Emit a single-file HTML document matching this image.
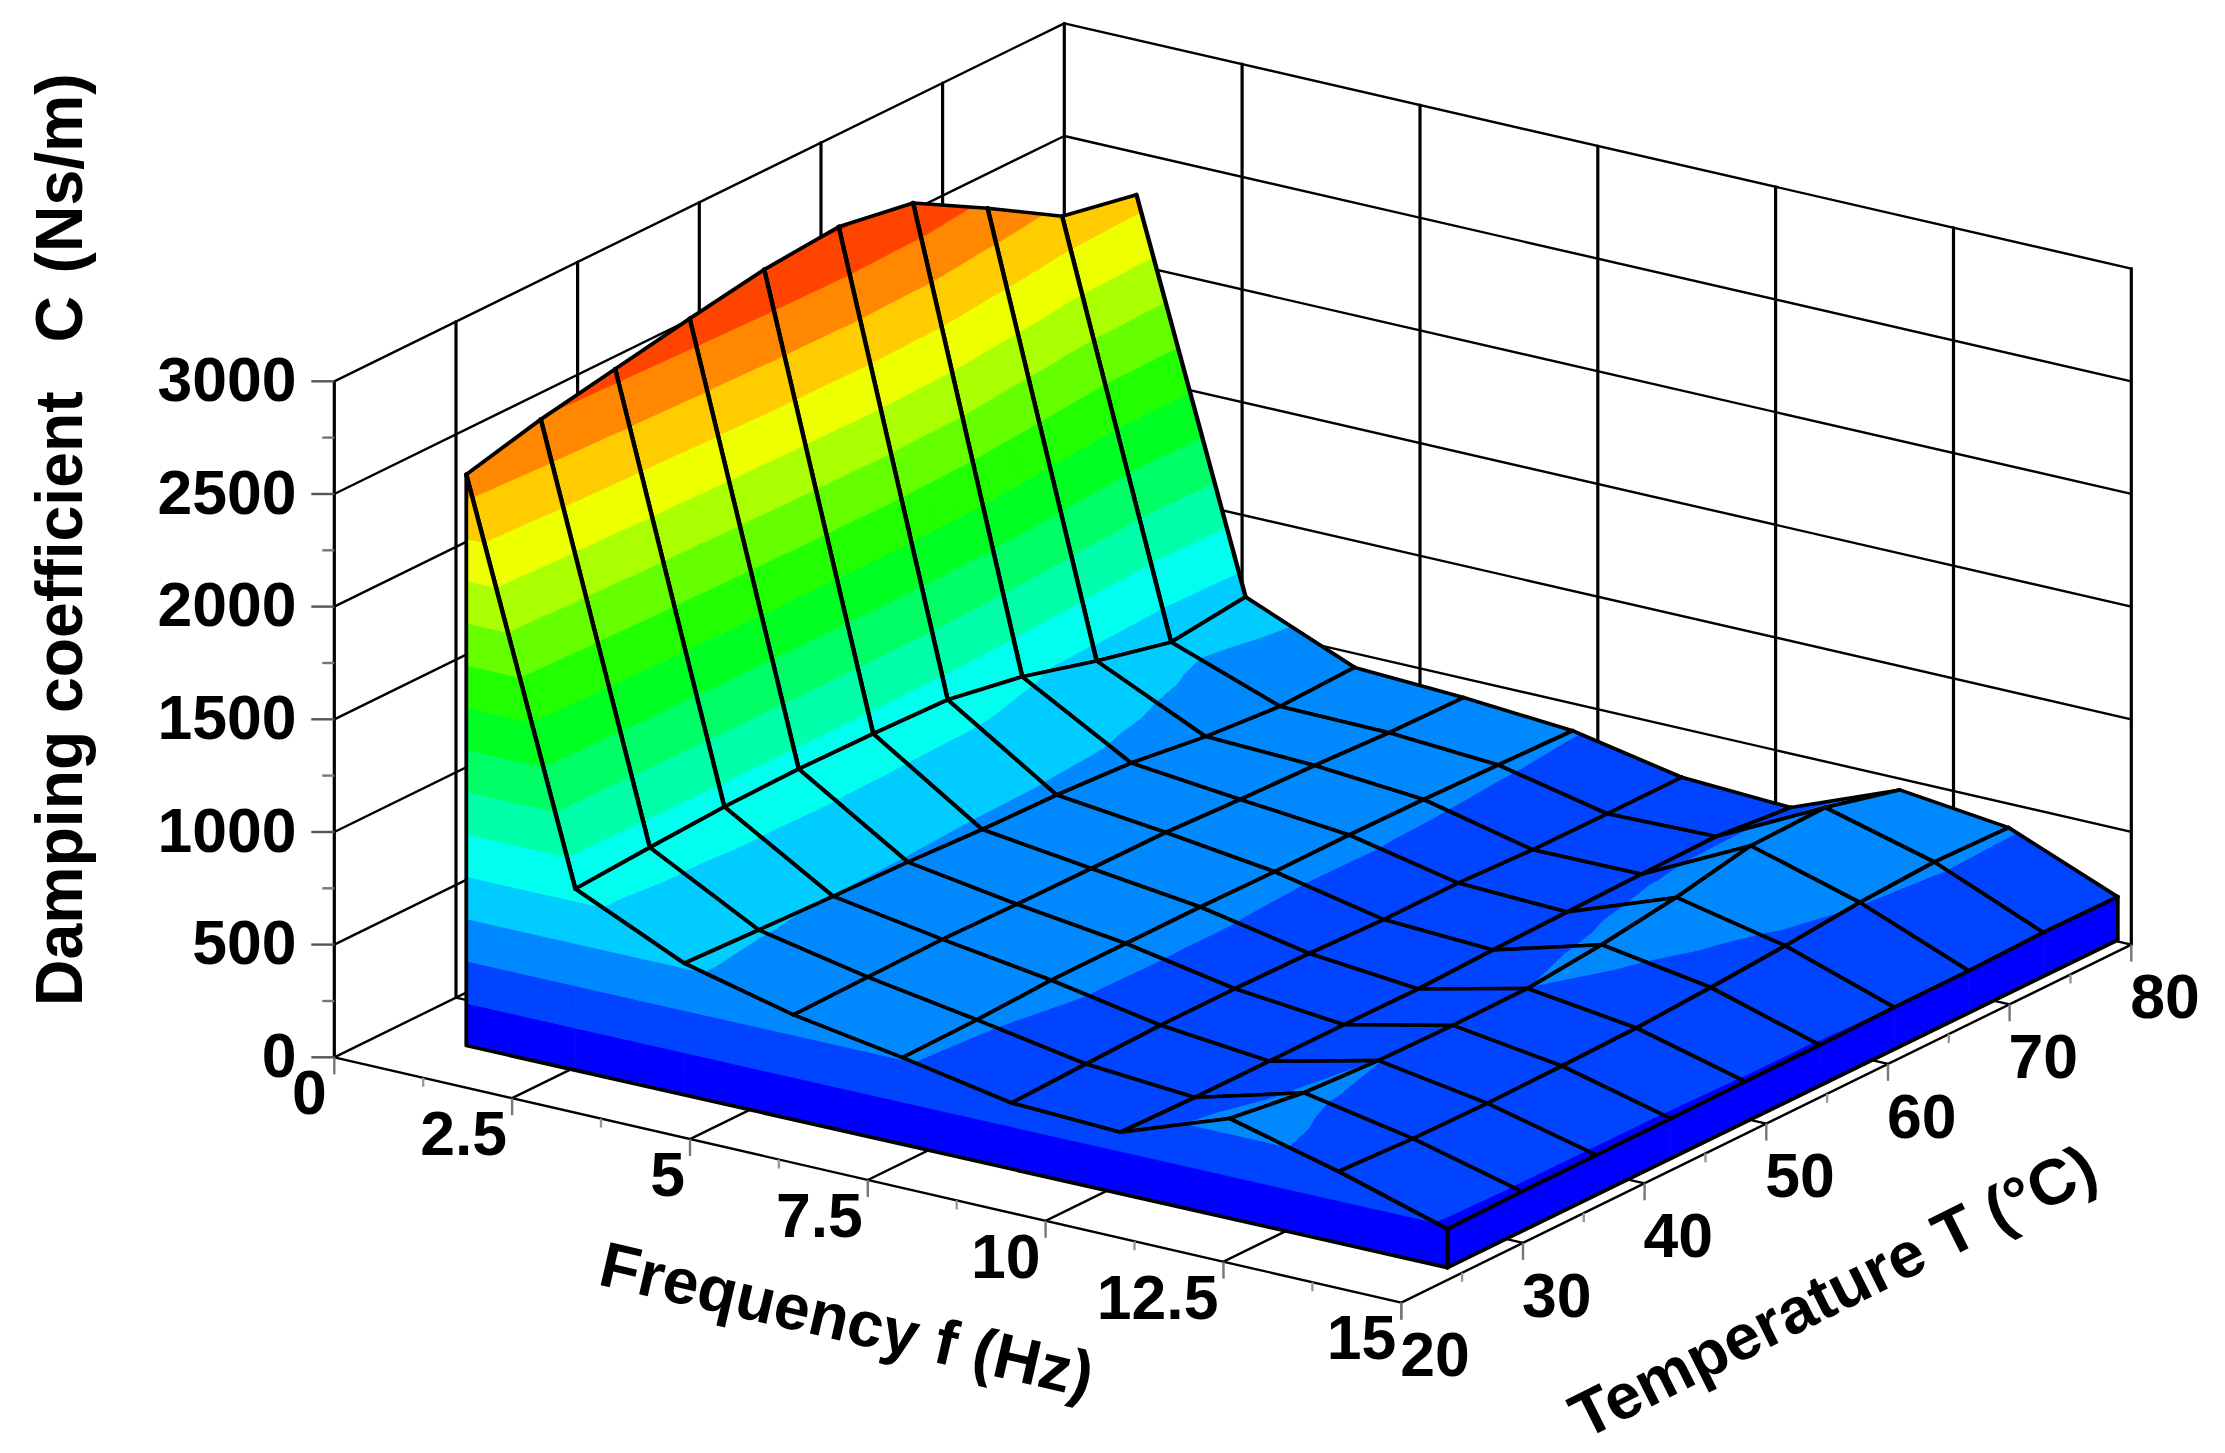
<!DOCTYPE html>
<html lang="en">
<head>
<meta charset="utf-8">
<title>Damping coefficient surface plot</title>
<style>
html,body{margin:0;padding:0;background:#fff;}
body{width:2225px;height:1453px;overflow:hidden;}
svg{display:block;}
</style>
</head>
<body>
<svg width="2225" height="1453" viewBox="0 0 2225 1453">
<rect width="2225" height="1453" fill="#fff"/>
<g stroke-linecap="round">
<line x1="334.3" y1="1057.3" x2="1064.3" y2="699.3" stroke="#000" stroke-width="2.4"/>
<line x1="1064.3" y1="699.3" x2="2131.3" y2="944.6" stroke="#000" stroke-width="2.4"/>
<line x1="334.3" y1="944.6" x2="1064.3" y2="586.6" stroke="#000" stroke-width="2.4"/>
<line x1="1064.3" y1="586.6" x2="2131.3" y2="831.9" stroke="#000" stroke-width="2.4"/>
<line x1="334.3" y1="832" x2="1064.3" y2="474" stroke="#000" stroke-width="2.4"/>
<line x1="1064.3" y1="474" x2="2131.3" y2="719.3" stroke="#000" stroke-width="2.4"/>
<line x1="334.3" y1="719.3" x2="1064.3" y2="361.3" stroke="#000" stroke-width="2.4"/>
<line x1="1064.3" y1="361.3" x2="2131.3" y2="606.6" stroke="#000" stroke-width="2.4"/>
<line x1="334.3" y1="606.6" x2="1064.3" y2="248.6" stroke="#000" stroke-width="2.4"/>
<line x1="1064.3" y1="248.6" x2="2131.3" y2="493.9" stroke="#000" stroke-width="2.4"/>
<line x1="334.3" y1="494" x2="1064.3" y2="136" stroke="#000" stroke-width="2.4"/>
<line x1="1064.3" y1="136" x2="2131.3" y2="381.3" stroke="#000" stroke-width="2.4"/>
<line x1="334.3" y1="381.3" x2="1064.3" y2="23.3" stroke="#000" stroke-width="2.4"/>
<line x1="1064.3" y1="23.3" x2="2131.3" y2="268.6" stroke="#000" stroke-width="2.4"/>
<line x1="334.3" y1="1057.3" x2="334.3" y2="381.3" stroke="#000" stroke-width="3.2"/>
<line x1="456" y1="997.6" x2="456" y2="321.6" stroke="#000" stroke-width="3.2"/>
<line x1="577.6" y1="938" x2="577.6" y2="262" stroke="#000" stroke-width="3.2"/>
<line x1="699.3" y1="878.3" x2="699.3" y2="202.3" stroke="#000" stroke-width="3.2"/>
<line x1="821" y1="818.6" x2="821" y2="142.6" stroke="#000" stroke-width="3.2"/>
<line x1="942.6" y1="759" x2="942.6" y2="83" stroke="#000" stroke-width="3.2"/>
<line x1="1064.3" y1="699.3" x2="1064.3" y2="23.3" stroke="#000" stroke-width="3.2"/>
<line x1="1242.1" y1="740.2" x2="1242.1" y2="64.2" stroke="#000" stroke-width="3.2"/>
<line x1="1420" y1="781.1" x2="1420" y2="105.1" stroke="#000" stroke-width="3.2"/>
<line x1="1597.8" y1="822" x2="1597.8" y2="146" stroke="#000" stroke-width="3.2"/>
<line x1="1775.6" y1="862.8" x2="1775.6" y2="186.8" stroke="#000" stroke-width="3.2"/>
<line x1="1953.5" y1="903.7" x2="1953.5" y2="227.7" stroke="#000" stroke-width="3.2"/>
<line x1="2131.3" y1="944.6" x2="2131.3" y2="268.6" stroke="#000" stroke-width="3.2"/>
<line x1="512.1" y1="1098.2" x2="1242.1" y2="740.2" stroke="#000" stroke-width="2.4"/>
<line x1="690" y1="1139.1" x2="1420" y2="781.1" stroke="#000" stroke-width="2.4"/>
<line x1="867.8" y1="1180" x2="1597.8" y2="822" stroke="#000" stroke-width="2.4"/>
<line x1="1045.6" y1="1220.8" x2="1775.6" y2="862.8" stroke="#000" stroke-width="2.4"/>
<line x1="1223.5" y1="1261.7" x2="1953.5" y2="903.7" stroke="#000" stroke-width="2.4"/>
<line x1="456" y1="997.6" x2="1523" y2="1242.9" stroke="#000" stroke-width="2.4"/>
<line x1="577.6" y1="938" x2="1644.6" y2="1183.3" stroke="#000" stroke-width="2.4"/>
<line x1="699.3" y1="878.3" x2="1766.3" y2="1123.6" stroke="#000" stroke-width="2.4"/>
<line x1="821" y1="818.6" x2="1888" y2="1063.9" stroke="#000" stroke-width="2.4"/>
<line x1="942.6" y1="759" x2="2009.6" y2="1004.3" stroke="#000" stroke-width="2.4"/>
<line x1="334.3" y1="1057.3" x2="1401.3" y2="1302.6" stroke="#000" stroke-width="2.4"/>
<line x1="1401.3" y1="1302.6" x2="2131.3" y2="944.6" stroke="#000" stroke-width="2.4"/>
</g>
<g stroke-linecap="butt">
<line x1="311.3" y1="1057.3" x2="334.3" y2="1057.3" stroke="#555" stroke-width="2.4"/>
<line x1="322.3" y1="1001" x2="334.3" y2="1001" stroke="#777" stroke-width="2.4"/>
<line x1="311.3" y1="944.6" x2="334.3" y2="944.6" stroke="#555" stroke-width="2.4"/>
<line x1="322.3" y1="888.3" x2="334.3" y2="888.3" stroke="#777" stroke-width="2.4"/>
<line x1="311.3" y1="832" x2="334.3" y2="832" stroke="#555" stroke-width="2.4"/>
<line x1="322.3" y1="775.6" x2="334.3" y2="775.6" stroke="#777" stroke-width="2.4"/>
<line x1="311.3" y1="719.3" x2="334.3" y2="719.3" stroke="#555" stroke-width="2.4"/>
<line x1="322.3" y1="663" x2="334.3" y2="663" stroke="#777" stroke-width="2.4"/>
<line x1="311.3" y1="606.6" x2="334.3" y2="606.6" stroke="#555" stroke-width="2.4"/>
<line x1="322.3" y1="550.3" x2="334.3" y2="550.3" stroke="#777" stroke-width="2.4"/>
<line x1="311.3" y1="494" x2="334.3" y2="494" stroke="#555" stroke-width="2.4"/>
<line x1="322.3" y1="437.6" x2="334.3" y2="437.6" stroke="#777" stroke-width="2.4"/>
<line x1="311.3" y1="381.3" x2="334.3" y2="381.3" stroke="#555" stroke-width="2.4"/>
<line x1="334.3" y1="1057.3" x2="334.3" y2="1074.3" stroke="#777" stroke-width="2.4"/>
<line x1="423.2" y1="1077.7" x2="423.2" y2="1086.7" stroke="#999" stroke-width="2.4"/>
<line x1="512.1" y1="1098.2" x2="512.1" y2="1115.2" stroke="#777" stroke-width="2.4"/>
<line x1="601" y1="1118.6" x2="601" y2="1127.6" stroke="#999" stroke-width="2.4"/>
<line x1="690" y1="1139.1" x2="690" y2="1156.1" stroke="#777" stroke-width="2.4"/>
<line x1="778.9" y1="1159.5" x2="778.9" y2="1168.5" stroke="#999" stroke-width="2.4"/>
<line x1="867.8" y1="1180" x2="867.8" y2="1197" stroke="#777" stroke-width="2.4"/>
<line x1="956.7" y1="1200.4" x2="956.7" y2="1209.4" stroke="#999" stroke-width="2.4"/>
<line x1="1045.6" y1="1220.8" x2="1045.6" y2="1237.8" stroke="#777" stroke-width="2.4"/>
<line x1="1134.5" y1="1241.3" x2="1134.5" y2="1250.3" stroke="#999" stroke-width="2.4"/>
<line x1="1223.5" y1="1261.7" x2="1223.5" y2="1278.7" stroke="#777" stroke-width="2.4"/>
<line x1="1312.4" y1="1282.2" x2="1312.4" y2="1291.2" stroke="#999" stroke-width="2.4"/>
<line x1="1401.3" y1="1302.6" x2="1401.3" y2="1319.6" stroke="#777" stroke-width="2.4"/>
<line x1="1401.3" y1="1302.6" x2="1401.3" y2="1319.6" stroke="#777" stroke-width="2.4"/>
<line x1="1462.1" y1="1272.8" x2="1462.1" y2="1281.8" stroke="#999" stroke-width="2.4"/>
<line x1="1523" y1="1242.9" x2="1523" y2="1259.9" stroke="#777" stroke-width="2.4"/>
<line x1="1583.8" y1="1213.1" x2="1583.8" y2="1222.1" stroke="#999" stroke-width="2.4"/>
<line x1="1644.6" y1="1183.3" x2="1644.6" y2="1200.3" stroke="#777" stroke-width="2.4"/>
<line x1="1705.5" y1="1153.4" x2="1705.5" y2="1162.4" stroke="#999" stroke-width="2.4"/>
<line x1="1766.3" y1="1123.6" x2="1766.3" y2="1140.6" stroke="#777" stroke-width="2.4"/>
<line x1="1827.1" y1="1093.8" x2="1827.1" y2="1102.8" stroke="#999" stroke-width="2.4"/>
<line x1="1888" y1="1063.9" x2="1888" y2="1080.9" stroke="#777" stroke-width="2.4"/>
<line x1="1948.8" y1="1034.1" x2="1948.8" y2="1043.1" stroke="#999" stroke-width="2.4"/>
<line x1="2009.6" y1="1004.3" x2="2009.6" y2="1021.3" stroke="#777" stroke-width="2.4"/>
<line x1="2070.5" y1="974.4" x2="2070.5" y2="983.4" stroke="#999" stroke-width="2.4"/>
<line x1="2131.3" y1="944.6" x2="2131.3" y2="961.6" stroke="#777" stroke-width="2.4"/>
</g>
<g stroke-linejoin="round" stroke-linecap="round">
<path d="M1162.3,608L1171.1,642.2L1168.3,605ZM1171.1,642.2L1245.6,596.9L1234.3,574.3L1168.3,605ZM1245.6,596.9L1238.8,572.1L1234.3,574.3Z" fill="#00ccff" stroke="#00ccff" stroke-width="0.8"/>
<path d="M1150.9,563.1L1162.3,608L1168.3,605L1164.6,556.3ZM1234.3,574.3L1213.9,533.3L1164.6,556.3L1168.3,605ZM1238.8,572.1L1226.6,527L1213.9,533.3L1234.3,574.3Z" fill="#00ffee" stroke="#00ffee" stroke-width="0.8"/>
<path d="M1139.4,518.3L1150.9,563.1L1164.6,556.3L1161,507.6ZM1213.9,533.3L1193.6,492.4L1161,507.6L1164.6,556.3ZM1226.6,527L1214.4,482L1193.6,492.4L1213.9,533.3Z" fill="#00ffaa" stroke="#00ffaa" stroke-width="0.8"/>
<path d="M1127.9,473.4L1139.4,518.3L1161,507.6L1157.3,458.8ZM1193.6,492.4L1173.2,451.5L1157.3,458.8L1161,507.6ZM1214.4,482L1202.2,437L1173.2,451.5L1193.6,492.4Z" fill="#00ff66" stroke="#00ff66" stroke-width="0.8"/>
<path d="M1116.4,428.6L1127.9,473.4L1157.3,458.8L1153.8,412.6L1152.9,410.5ZM1173.2,451.5L1153.8,412.6L1157.3,458.8ZM1202.2,437L1190,392L1153.6,410.1L1153.8,412.6L1173.2,451.5ZM1152.9,410.5L1153.8,412.6L1153.6,410.1Z" fill="#00ff22" stroke="#00ff22" stroke-width="0.8"/>
<path d="M1104.9,383.8L1116.4,428.6L1152.9,410.5L1133.7,369.5ZM1190,392L1177.8,347L1149.7,361L1153.6,410.1ZM1133.7,369.5L1152.9,410.5L1153.6,410.1L1149.7,361Z" fill="#22ff00" stroke="#22ff00" stroke-width="0.8"/>
<path d="M1093.5,338.9L1104.9,383.8L1133.7,369.5L1114.5,328.5ZM1177.8,347L1165.6,302L1145.8,311.8L1149.7,361ZM1114.5,328.5L1133.7,369.5L1149.7,361L1145.8,311.8Z" fill="#66ff00" stroke="#66ff00" stroke-width="0.8"/>
<path d="M1082,294.1L1093.5,338.9L1114.5,328.5L1095.3,287.4ZM1165.6,302L1153.4,257L1141.9,262.7L1145.8,311.8ZM1095.3,287.4L1114.5,328.5L1145.8,311.8L1141.9,262.7Z" fill="#aaff00" stroke="#aaff00" stroke-width="0.8"/>
<path d="M1070.5,249.2L1082,294.1L1095.3,287.4L1076.2,246.4ZM1153.4,257L1141.2,212L1138,213.5L1141.9,262.7ZM1076.2,246.4L1095.3,287.4L1141.9,262.7L1138,213.5Z" fill="#eeff00" stroke="#eeff00" stroke-width="0.8"/>
<path d="M1062.1,216.3L1070.5,249.2L1076.2,246.4ZM1141.2,212L1136.5,194.8L1138,213.5ZM1136.5,194.8L1062.1,216.3L1076.2,246.4L1138,213.5Z" fill="#ffcc00" stroke="#ffcc00" stroke-width="0.8"/>
<path d="M1062.1,216.3L1171.1,642.2" stroke="#000" stroke-width="4.35"/>
<path d="M1171.1,642.2L1245.6,596.9" stroke="#000" stroke-width="3.78"/>
<path d="M1245.6,596.9L1136.5,194.8" stroke="#000" stroke-width="4.34"/>
<path d="M1136.5,194.8L1062.1,216.3" stroke="#000" stroke-width="3.62"/>
<path d="M1198.8,658.5L1280.1,706.4L1262.8,653.2L1225.6,648.7ZM1280.1,706.4L1354.6,667.4L1262.8,653.2ZM1354.6,667.4L1290.6,626L1258.3,638.2L1262.8,653.2ZM1225.6,648.7L1262.8,653.2L1258.3,638.2Z" fill="#0088ff" stroke="#0088ff" stroke-width="0.8"/>
<path d="M1171.1,642.2L1198.8,658.5L1225.6,648.7ZM1290.6,626L1245.6,596.9L1258.3,638.2ZM1245.6,596.9L1171.1,642.2L1225.6,648.7L1258.3,638.2Z" fill="#00ccff" stroke="#00ccff" stroke-width="0.8"/>
<path d="M1171.1,642.2L1280.1,706.4" stroke="#000" stroke-width="3.77"/>
<path d="M1280.1,706.4L1354.6,667.4" stroke="#000" stroke-width="3.73"/>
<path d="M1354.6,667.4L1245.6,596.9" stroke="#000" stroke-width="3.80"/>
<path d="M1245.6,596.9L1171.1,642.2" stroke="#000" stroke-width="3.78"/>
<path d="M1280.1,706.4L1389.1,732.8L1371.9,701ZM1389.1,732.8L1463.6,697.6L1371.9,701ZM1463.6,697.6L1354.6,667.4L1371.9,701ZM1354.6,667.4L1280.1,706.4L1371.9,701Z" fill="#0088ff" stroke="#0088ff" stroke-width="0.8"/>
<path d="M1280.1,706.4L1389.1,732.8" stroke="#000" stroke-width="3.60"/>
<path d="M1389.1,732.8L1463.6,697.6" stroke="#000" stroke-width="3.71"/>
<path d="M1463.6,697.6L1354.6,667.4" stroke="#000" stroke-width="3.61"/>
<path d="M1354.6,667.4L1280.1,706.4" stroke="#000" stroke-width="3.73"/>
<path d="M1389.1,732.8L1498.2,765L1480.9,731.5ZM1498.2,765L1572.6,730.7L1480.9,731.5ZM1572.6,730.7L1463.6,697.6L1480.9,731.5ZM1463.6,697.6L1389.1,732.8L1480.9,731.5Z" fill="#0088ff" stroke="#0088ff" stroke-width="0.8"/>
<path d="M1389.1,732.8L1498.2,765" stroke="#000" stroke-width="3.62"/>
<path d="M1498.2,765L1572.6,730.7" stroke="#000" stroke-width="3.70"/>
<path d="M1572.6,730.7L1463.6,697.6" stroke="#000" stroke-width="3.62"/>
<path d="M1463.6,697.6L1389.1,732.8" stroke="#000" stroke-width="3.71"/>
<path d="M1514,772.1L1607.2,813.8L1589.9,771.7L1523.8,766.9ZM1607.2,813.8L1681.7,777.3L1589.9,771.7ZM1681.7,777.3L1579.7,733.7L1575,736.2L1589.9,771.7ZM1523.8,766.9L1589.9,771.7L1575,736.2Z" fill="#0044ff" stroke="#0044ff" stroke-width="0.8"/>
<path d="M1498.2,765L1514,772.1L1523.8,766.9ZM1579.7,733.7L1572.6,730.7L1575,736.2ZM1572.6,730.7L1498.2,765L1523.8,766.9L1575,736.2Z" fill="#0088ff" stroke="#0088ff" stroke-width="0.8"/>
<path d="M1498.2,765L1607.2,813.8" stroke="#000" stroke-width="3.69"/>
<path d="M1607.2,813.8L1681.7,777.3" stroke="#000" stroke-width="3.71"/>
<path d="M1681.7,777.3L1572.6,730.7" stroke="#000" stroke-width="3.68"/>
<path d="M1572.6,730.7L1498.2,765" stroke="#000" stroke-width="3.70"/>
<path d="M1607.2,813.8L1716.2,836.5L1698.9,808.8ZM1716.2,836.5L1790.7,807.5L1698.9,808.8ZM1790.7,807.5L1681.7,777.3L1698.9,808.8ZM1681.7,777.3L1607.2,813.8L1698.9,808.8Z" fill="#0044ff" stroke="#0044ff" stroke-width="0.8"/>
<path d="M1607.2,813.8L1716.2,836.5" stroke="#000" stroke-width="3.59"/>
<path d="M1716.2,836.5L1790.7,807.5" stroke="#000" stroke-width="3.66"/>
<path d="M1790.7,807.5L1681.7,777.3" stroke="#000" stroke-width="3.61"/>
<path d="M1681.7,777.3L1607.2,813.8" stroke="#000" stroke-width="3.71"/>
<path d="M1716.2,836.5L1754.1,826.4L1800.5,812.5ZM1857.8,796.7L1790.7,807.5L1806.9,810.2ZM1790.7,807.5L1716.2,836.5L1800.5,812.5L1806.9,810.2Z" fill="#0044ff" stroke="#0044ff" stroke-width="0.8"/>
<path d="M1754.1,826.4L1825.2,807.5L1808,810.4L1800.5,812.5ZM1825.2,807.5L1899.7,789.9L1808,810.4ZM1899.7,789.9L1857.8,796.7L1806.9,810.2L1808,810.4ZM1800.5,812.5L1808,810.4L1806.9,810.2Z" fill="#0088ff" stroke="#0088ff" stroke-width="0.8"/>
<path d="M1716.2,836.5L1825.2,807.5" stroke="#000" stroke-width="3.61"/>
<path d="M1825.2,807.5L1899.7,789.9" stroke="#000" stroke-width="3.59"/>
<path d="M1899.7,789.9L1790.7,807.5" stroke="#000" stroke-width="3.57"/>
<path d="M1790.7,807.5L1716.2,836.5" stroke="#000" stroke-width="3.66"/>
<path d="M1825.2,807.5L1934.3,862L1917,821.8ZM1934.3,862L2008.7,827.6L1917,821.8ZM2008.7,827.6L1899.7,789.9L1917,821.8ZM1899.7,789.9L1825.2,807.5L1917,821.8Z" fill="#0088ff" stroke="#0088ff" stroke-width="0.8"/>
<path d="M1825.2,807.5L1934.3,862" stroke="#000" stroke-width="3.72"/>
<path d="M1934.3,862L2008.7,827.6" stroke="#000" stroke-width="3.70"/>
<path d="M2008.7,827.6L1899.7,789.9" stroke="#000" stroke-width="3.64"/>
<path d="M1899.7,789.9L1825.2,807.5" stroke="#000" stroke-width="3.59"/>
<path d="M1946.7,870L2043.3,932.5L2026,879.7L1954.6,865.9ZM2043.3,932.5L2117.8,896.8L2026,879.7ZM2117.8,896.8L2016.6,832.6L2011.3,835.4L2026,879.7ZM1954.6,865.9L2026,879.7L2011.3,835.4Z" fill="#0044ff" stroke="#0044ff" stroke-width="0.8"/>
<path d="M1934.3,862L1946.7,870L1954.6,865.9ZM2016.6,832.6L2008.7,827.6L2011.3,835.4ZM2008.7,827.6L1934.3,862L1954.6,865.9L2011.3,835.4Z" fill="#0088ff" stroke="#0088ff" stroke-width="0.8"/>
<path d="M1934.3,862L2043.3,932.5" stroke="#000" stroke-width="3.80"/>
<path d="M2043.3,932.5L2117.8,896.8" stroke="#000" stroke-width="3.71"/>
<path d="M2117.8,896.8L2008.7,827.6" stroke="#000" stroke-width="3.79"/>
<path d="M2008.7,827.6L1934.3,862" stroke="#000" stroke-width="3.70"/>
<path d="M1092.9,645.5L1096.6,661L1095.4,644.1ZM1096.6,661L1171.1,642.2L1157.4,610.9L1095.4,644.1ZM1171.1,642.2L1162.3,608L1157.4,610.9Z" fill="#00ccff" stroke="#00ccff" stroke-width="0.8"/>
<path d="M1082.1,600.8L1092.9,645.5L1095.4,644.1L1091.7,595.4ZM1157.4,610.9L1139.5,569.7L1091.7,595.4L1095.4,644.1ZM1162.3,608L1150.9,563.1L1139.5,569.7L1157.4,610.9Z" fill="#00ffee" stroke="#00ffee" stroke-width="0.8"/>
<path d="M1071.4,556.2L1082.1,600.8L1091.7,595.4L1088,546.6ZM1139.5,569.7L1121.6,528.6L1088,546.6L1091.7,595.4ZM1150.9,563.1L1139.4,518.3L1121.6,528.6L1139.5,569.7Z" fill="#00ffaa" stroke="#00ffaa" stroke-width="0.8"/>
<path d="M1060.6,511.5L1071.4,556.2L1088,546.6L1084.3,497.9ZM1121.6,528.6L1103.6,487.5L1084.3,497.9L1088,546.6ZM1139.4,518.3L1127.9,473.4L1103.6,487.5L1121.6,528.6Z" fill="#00ff66" stroke="#00ff66" stroke-width="0.8"/>
<path d="M1049.9,466.8L1060.6,511.5L1084.3,497.9L1080.7,449.1ZM1103.6,487.5L1085.7,446.4L1080.7,449.1L1084.3,497.9ZM1127.9,473.4L1116.4,428.6L1085.7,446.4L1103.6,487.5Z" fill="#00ff22" stroke="#00ff22" stroke-width="0.8"/>
<path d="M1039.1,422.1L1049.9,466.8L1080.7,449.1L1079.4,431.9L1068.4,405.3ZM1085.7,446.4L1079.4,431.9L1080.7,449.1ZM1116.4,428.6L1104.9,383.8L1076.8,400.1L1079.4,431.9L1085.7,446.4ZM1068.4,405.3L1079.4,431.9L1076.8,400.1Z" fill="#22ff00" stroke="#22ff00" stroke-width="0.8"/>
<path d="M1028.3,377.4L1039.1,422.1L1068.4,405.3L1051.5,364.1ZM1104.9,383.8L1093.5,338.9L1072.9,350.9L1076.8,400.1ZM1051.5,364.1L1068.4,405.3L1076.8,400.1L1072.9,350.9Z" fill="#66ff00" stroke="#66ff00" stroke-width="0.8"/>
<path d="M1017.6,332.7L1028.3,377.4L1051.5,364.1L1034.7,322.9ZM1093.5,338.9L1082,294.1L1068.9,301.6L1072.9,350.9ZM1034.7,322.9L1051.5,364.1L1072.9,350.9L1068.9,301.6Z" fill="#aaff00" stroke="#aaff00" stroke-width="0.8"/>
<path d="M1006.8,288.1L1017.6,332.7L1034.7,322.9L1017.8,281.8ZM1082,294.1L1070.5,249.2L1065,252.4L1068.9,301.6ZM1017.8,281.8L1034.7,322.9L1068.9,301.6L1065,252.4Z" fill="#eeff00" stroke="#eeff00" stroke-width="0.8"/>
<path d="M996.1,243.4L1006.8,288.1L1017.8,281.8L1000.9,240.6ZM1070.5,249.2L1062.1,216.3L1065,252.4ZM1062.1,216.3L1043.3,214.3L1000.9,240.6L1017.8,281.8L1065,252.4Z" fill="#ffcc00" stroke="#ffcc00" stroke-width="0.8"/>
<path d="M987.6,208.2L996.1,243.4L1000.9,240.6ZM1043.3,214.3L987.6,208.2L1000.9,240.6Z" fill="#ff8800" stroke="#ff8800" stroke-width="0.8"/>
<path d="M987.6,208.2L1096.6,661" stroke="#000" stroke-width="4.35"/>
<path d="M1096.6,661L1171.1,642.2" stroke="#000" stroke-width="3.60"/>
<path d="M1171.1,642.2L1062.1,216.3" stroke="#000" stroke-width="4.35"/>
<path d="M1062.1,216.3L987.6,208.2" stroke="#000" stroke-width="3.56"/>
<path d="M1155.8,702L1205.7,736.6L1188.4,686.5L1177.3,683.5ZM1205.7,736.6L1280.1,706.4L1188.4,686.5ZM1280.1,706.4L1198.8,658.5L1183.6,674.4L1188.4,686.5ZM1177.3,683.5L1188.4,686.5L1183.6,674.4Z" fill="#0088ff" stroke="#0088ff" stroke-width="0.8"/>
<path d="M1096.6,661L1155.8,702L1177.3,683.5ZM1198.8,658.5L1171.1,642.2L1183.6,674.4ZM1171.1,642.2L1096.6,661L1177.3,683.5L1183.6,674.4Z" fill="#00ccff" stroke="#00ccff" stroke-width="0.8"/>
<path d="M1096.6,661L1205.7,736.6" stroke="#000" stroke-width="3.83"/>
<path d="M1205.7,736.6L1280.1,706.4" stroke="#000" stroke-width="3.67"/>
<path d="M1280.1,706.4L1171.1,642.2" stroke="#000" stroke-width="3.77"/>
<path d="M1171.1,642.2L1096.6,661" stroke="#000" stroke-width="3.60"/>
<path d="M1205.7,736.6L1314.7,765.5L1297.4,735.3ZM1314.7,765.5L1389.1,732.8L1297.4,735.3ZM1389.1,732.8L1280.1,706.4L1297.4,735.3ZM1280.1,706.4L1205.7,736.6L1297.4,735.3Z" fill="#0088ff" stroke="#0088ff" stroke-width="0.8"/>
<path d="M1205.7,736.6L1314.7,765.5" stroke="#000" stroke-width="3.61"/>
<path d="M1314.7,765.5L1389.1,732.8" stroke="#000" stroke-width="3.69"/>
<path d="M1389.1,732.8L1280.1,706.4" stroke="#000" stroke-width="3.60"/>
<path d="M1280.1,706.4L1205.7,736.6" stroke="#000" stroke-width="3.67"/>
<path d="M1314.7,765.5L1423.7,799.5L1406.4,765.7ZM1423.7,799.5L1498.2,765L1406.4,765.7ZM1498.2,765L1389.1,732.8L1406.4,765.7ZM1389.1,732.8L1314.7,765.5L1406.4,765.7Z" fill="#0088ff" stroke="#0088ff" stroke-width="0.8"/>
<path d="M1314.7,765.5L1423.7,799.5" stroke="#000" stroke-width="3.63"/>
<path d="M1423.7,799.5L1498.2,765" stroke="#000" stroke-width="3.70"/>
<path d="M1498.2,765L1389.1,732.8" stroke="#000" stroke-width="3.62"/>
<path d="M1389.1,732.8L1314.7,765.5" stroke="#000" stroke-width="3.69"/>
<path d="M1446.7,810.1L1532.7,849.8L1515.4,807L1460.8,802.5ZM1532.7,849.8L1607.2,813.8L1515.4,807ZM1607.2,813.8L1514,772.1L1503.4,777.8L1515.4,807ZM1460.8,802.5L1515.4,807L1503.4,777.8Z" fill="#0044ff" stroke="#0044ff" stroke-width="0.8"/>
<path d="M1423.7,799.5L1446.7,810.1L1460.8,802.5ZM1514,772.1L1498.2,765L1503.4,777.8ZM1498.2,765L1423.7,799.5L1460.8,802.5L1503.4,777.8Z" fill="#0088ff" stroke="#0088ff" stroke-width="0.8"/>
<path d="M1423.7,799.5L1532.7,849.8" stroke="#000" stroke-width="3.70"/>
<path d="M1532.7,849.8L1607.2,813.8" stroke="#000" stroke-width="3.71"/>
<path d="M1607.2,813.8L1498.2,765" stroke="#000" stroke-width="3.69"/>
<path d="M1498.2,765L1423.7,799.5" stroke="#000" stroke-width="3.70"/>
<path d="M1532.7,849.8L1641.7,874.2L1624.5,843.6ZM1641.7,874.2L1716.2,836.5L1624.5,843.6ZM1716.2,836.5L1607.2,813.8L1624.5,843.6ZM1607.2,813.8L1532.7,849.8L1624.5,843.6Z" fill="#0044ff" stroke="#0044ff" stroke-width="0.8"/>
<path d="M1532.7,849.8L1641.7,874.2" stroke="#000" stroke-width="3.59"/>
<path d="M1641.7,874.2L1716.2,836.5" stroke="#000" stroke-width="3.72"/>
<path d="M1716.2,836.5L1607.2,813.8" stroke="#000" stroke-width="3.59"/>
<path d="M1607.2,813.8L1532.7,849.8" stroke="#000" stroke-width="3.71"/>
<path d="M1641.7,874.2L1682.7,863.5L1708.6,850ZM1754.1,826.4L1716.2,836.5L1728.6,839.7ZM1716.2,836.5L1641.7,874.2L1708.6,850L1728.6,839.7Z" fill="#0044ff" stroke="#0044ff" stroke-width="0.8"/>
<path d="M1682.7,863.5L1750.8,845.8L1733.5,841L1708.6,850ZM1750.8,845.8L1825.2,807.5L1733.5,841ZM1825.2,807.5L1754.1,826.4L1728.6,839.7L1733.5,841ZM1708.6,850L1733.5,841L1728.6,839.7Z" fill="#0088ff" stroke="#0088ff" stroke-width="0.8"/>
<path d="M1641.7,874.2L1750.8,845.8" stroke="#000" stroke-width="3.60"/>
<path d="M1750.8,845.8L1825.2,807.5" stroke="#000" stroke-width="3.73"/>
<path d="M1825.2,807.5L1716.2,836.5" stroke="#000" stroke-width="3.61"/>
<path d="M1716.2,836.5L1641.7,874.2" stroke="#000" stroke-width="3.72"/>
<path d="M1750.8,845.8L1859.8,902.5L1842.5,854.5ZM1859.8,902.5L1934.3,862L1842.5,854.5ZM1934.3,862L1825.2,807.5L1842.5,854.5ZM1825.2,807.5L1750.8,845.8L1842.5,854.5Z" fill="#0088ff" stroke="#0088ff" stroke-width="0.8"/>
<path d="M1750.8,845.8L1859.8,902.5" stroke="#000" stroke-width="3.73"/>
<path d="M1859.8,902.5L1934.3,862" stroke="#000" stroke-width="3.74"/>
<path d="M1934.3,862L1825.2,807.5" stroke="#000" stroke-width="3.72"/>
<path d="M1825.2,807.5L1750.8,845.8" stroke="#000" stroke-width="3.73"/>
<path d="M1967.9,970.4L1968.8,970.9L1968.5,970.1ZM1968.8,970.9L1981.8,964.2L1968.5,970.1Z" fill="#0000ff" stroke="#0000ff" stroke-width="0.8"/>
<path d="M1862.6,904.3L1967.9,970.4L1968.5,970.1L1951.5,917L1864.8,903.3ZM1981.8,964.2L2043.3,932.5L1951.5,917L1968.5,970.1ZM2043.3,932.5L1946.7,870L1937.9,873.7L1951.5,917ZM1864.8,903.3L1951.5,917L1937.9,873.7Z" fill="#0044ff" stroke="#0044ff" stroke-width="0.8"/>
<path d="M1859.8,902.5L1862.6,904.3L1864.8,903.3ZM1946.7,870L1934.3,862L1937.9,873.7ZM1934.3,862L1859.8,902.5L1864.8,903.3L1937.9,873.7Z" fill="#0088ff" stroke="#0088ff" stroke-width="0.8"/>
<path d="M1859.8,902.5L1968.8,970.9" stroke="#000" stroke-width="3.79"/>
<path d="M1968.8,970.9L2043.3,932.5" stroke="#000" stroke-width="3.73"/>
<path d="M2043.3,932.5L1934.3,862" stroke="#000" stroke-width="3.80"/>
<path d="M1934.3,862L1859.8,902.5" stroke="#000" stroke-width="3.74"/>
<path d="M1013.4,638.5L1022.2,676.7L1019.2,635.2ZM1022.2,676.7L1044,672.1L1090.8,646.8L1073.9,605.6L1019.2,635.2ZM1092.9,645.5L1082.1,600.8L1073.9,605.6L1090.8,646.8Z" fill="#00ffee" stroke="#00ffee" stroke-width="0.8"/>
<path d="M1003.1,594L1013.4,638.5L1019.2,635.2L1015.7,586.8ZM1073.9,605.6L1057,564.4L1015.7,586.8L1019.2,635.2ZM1082.1,600.8L1071.4,556.2L1057,564.4L1073.9,605.6Z" fill="#00ffaa" stroke="#00ffaa" stroke-width="0.8"/>
<path d="M992.9,549.4L1003.1,594L1015.7,586.8L1012.2,538.4ZM1057,564.4L1040.2,523.2L1012.2,538.4L1015.7,586.8ZM1071.4,556.2L1060.6,511.5L1040.2,523.2L1057,564.4Z" fill="#00ff66" stroke="#00ff66" stroke-width="0.8"/>
<path d="M982.6,504.8L992.9,549.4L1012.2,538.4L1008.7,490ZM1040.2,523.2L1023.3,482.1L1008.7,490L1012.2,538.4ZM1060.6,511.5L1049.9,466.8L1023.3,482.1L1040.2,523.2Z" fill="#00ff22" stroke="#00ff22" stroke-width="0.8"/>
<path d="M972.4,460.3L982.6,504.8L1008.7,490L1005.2,441.5ZM1023.3,482.1L1006.4,440.9L1005.2,441.5L1008.7,490ZM1049.9,466.8L1039.1,422.1L1006.4,440.9L1023.3,482.1Z" fill="#22ff00" stroke="#22ff00" stroke-width="0.8"/>
<path d="M962.1,415.7L972.4,460.3L1005.2,441.5L1004.9,437.2L990.2,399.7ZM1006.4,440.9L1004.9,437.2L1005.2,441.5ZM1039.1,422.1L1028.3,377.4L1001.5,392.8L1004.9,437.2L1006.4,440.9ZM990.2,399.7L1004.9,437.2L1001.5,392.8Z" fill="#66ff00" stroke="#66ff00" stroke-width="0.8"/>
<path d="M951.8,371.1L962.1,415.7L990.2,399.7L974,358.5ZM1028.3,377.4L1017.6,332.7L997.9,344.1L1001.5,392.8ZM974,358.5L990.2,399.7L1001.5,392.8L997.9,344.1Z" fill="#aaff00" stroke="#aaff00" stroke-width="0.8"/>
<path d="M941.6,326.5L951.8,371.1L974,358.5L957.9,317.2ZM1017.6,332.7L1006.8,288.1L994.2,295.3L997.9,344.1ZM957.9,317.2L974,358.5L997.9,344.1L994.2,295.3Z" fill="#eeff00" stroke="#eeff00" stroke-width="0.8"/>
<path d="M931.3,282L941.6,326.5L957.9,317.2L941.8,276ZM1006.8,288.1L996.1,243.4L990.5,246.6L994.2,295.3ZM941.8,276L957.9,317.2L994.2,295.3L990.5,246.6Z" fill="#ffcc00" stroke="#ffcc00" stroke-width="0.8"/>
<path d="M921.1,237.4L931.3,282L941.8,276L925.6,234.8ZM996.1,243.4L987.6,208.2L990.5,246.6ZM987.6,208.2L971.5,207.1L925.6,234.8L941.8,276L990.5,246.6Z" fill="#ff8800" stroke="#ff8800" stroke-width="0.8"/>
<path d="M913.1,202.9L921.1,237.4L925.6,234.8ZM971.5,207.1L913.1,202.9L925.6,234.8Z" fill="#ff4400" stroke="#ff4400" stroke-width="0.8"/>
<path d="M1044,672.1L1096.6,661L1090.8,646.8ZM1096.6,661L1092.9,645.5L1090.8,646.8Z" fill="#00ccff" stroke="#00ccff" stroke-width="0.8"/>
<path d="M913.1,202.9L1022.2,676.7" stroke="#000" stroke-width="4.36"/>
<path d="M1022.2,676.7L1096.6,661" stroke="#000" stroke-width="3.59"/>
<path d="M1096.6,661L987.6,208.2" stroke="#000" stroke-width="4.35"/>
<path d="M987.6,208.2L913.1,202.9" stroke="#000" stroke-width="3.55"/>
<path d="M1107.7,744.4L1131.2,763L1121.3,732.2ZM1131.2,763L1205.7,736.6L1141.2,717.4L1121.3,732.2ZM1205.7,736.6L1155.8,702L1141.2,717.4Z" fill="#0088ff" stroke="#0088ff" stroke-width="0.8"/>
<path d="M1032.9,685.2L1107.7,744.4L1121.3,732.2L1113.9,709.3L1036.6,681.9ZM1141.2,717.4L1113.9,709.3L1121.3,732.2ZM1155.8,702L1096.6,661L1113.9,709.3L1141.2,717.4ZM1096.6,661L1044,672.1L1036.6,681.9L1113.9,709.3Z" fill="#00ccff" stroke="#00ccff" stroke-width="0.8"/>
<path d="M1022.2,676.7L1032.9,685.2L1036.6,681.9ZM1044,672.1L1022.2,676.7L1036.6,681.9Z" fill="#00ffee" stroke="#00ffee" stroke-width="0.8"/>
<path d="M1022.2,676.7L1131.2,763" stroke="#000" stroke-width="3.88"/>
<path d="M1131.2,763L1205.7,736.6" stroke="#000" stroke-width="3.64"/>
<path d="M1205.7,736.6L1096.6,661" stroke="#000" stroke-width="3.83"/>
<path d="M1096.6,661L1022.2,676.7" stroke="#000" stroke-width="3.59"/>
<path d="M1131.2,763L1240.2,799.5L1222.9,766.1ZM1240.2,799.5L1314.7,765.5L1222.9,766.1ZM1314.7,765.5L1205.7,736.6L1222.9,766.1ZM1205.7,736.6L1131.2,763L1222.9,766.1Z" fill="#0088ff" stroke="#0088ff" stroke-width="0.8"/>
<path d="M1131.2,763L1240.2,799.5" stroke="#000" stroke-width="3.64"/>
<path d="M1240.2,799.5L1314.7,765.5" stroke="#000" stroke-width="3.70"/>
<path d="M1314.7,765.5L1205.7,736.6" stroke="#000" stroke-width="3.61"/>
<path d="M1205.7,736.6L1131.2,763" stroke="#000" stroke-width="3.64"/>
<path d="M1240.2,799.5L1349.2,835L1331.9,799.9ZM1349.2,835L1423.7,799.5L1331.9,799.9ZM1423.7,799.5L1314.7,765.5L1331.9,799.9ZM1314.7,765.5L1240.2,799.5L1331.9,799.9Z" fill="#0088ff" stroke="#0088ff" stroke-width="0.8"/>
<path d="M1240.2,799.5L1349.2,835" stroke="#000" stroke-width="3.63"/>
<path d="M1349.2,835L1423.7,799.5" stroke="#000" stroke-width="3.71"/>
<path d="M1423.7,799.5L1314.7,765.5" stroke="#000" stroke-width="3.63"/>
<path d="M1314.7,765.5L1240.2,799.5" stroke="#000" stroke-width="3.70"/>
<path d="M1378.6,848L1458.2,883.1L1441,841.9L1394.8,838.4ZM1458.2,883.1L1532.7,849.8L1441,841.9ZM1532.7,849.8L1446.7,810.1L1431.6,818.9L1441,841.9ZM1394.8,838.4L1441,841.9L1431.6,818.9Z" fill="#0044ff" stroke="#0044ff" stroke-width="0.8"/>
<path d="M1349.2,835L1378.6,848L1394.8,838.4ZM1446.7,810.1L1423.7,799.5L1431.6,818.9ZM1423.7,799.5L1349.2,835L1394.8,838.4L1431.6,818.9Z" fill="#0088ff" stroke="#0088ff" stroke-width="0.8"/>
<path d="M1349.2,835L1458.2,883.1" stroke="#000" stroke-width="3.69"/>
<path d="M1458.2,883.1L1532.7,849.8" stroke="#000" stroke-width="3.69"/>
<path d="M1532.7,849.8L1423.7,799.5" stroke="#000" stroke-width="3.70"/>
<path d="M1423.7,799.5L1349.2,835" stroke="#000" stroke-width="3.71"/>
<path d="M1458.2,883.1L1567.3,912L1550,879.8ZM1567.3,912L1641.7,874.2L1550,879.8ZM1641.7,874.2L1532.7,849.8L1550,879.8ZM1532.7,849.8L1458.2,883.1L1550,879.8Z" fill="#0044ff" stroke="#0044ff" stroke-width="0.8"/>
<path d="M1458.2,883.1L1567.3,912" stroke="#000" stroke-width="3.61"/>
<path d="M1567.3,912L1641.7,874.2" stroke="#000" stroke-width="3.72"/>
<path d="M1641.7,874.2L1532.7,849.8" stroke="#000" stroke-width="3.59"/>
<path d="M1532.7,849.8L1458.2,883.1" stroke="#000" stroke-width="3.69"/>
<path d="M1567.3,912L1626.5,904.1L1649.5,885.4ZM1682.7,863.5L1641.7,874.2L1657.1,881.5ZM1641.7,874.2L1567.3,912L1649.5,885.4L1657.1,881.5Z" fill="#0044ff" stroke="#0044ff" stroke-width="0.8"/>
<path d="M1626.5,904.1L1676.3,897.4L1659,882.4L1649.5,885.4ZM1676.3,897.4L1750.8,845.8L1659,882.4ZM1750.8,845.8L1682.7,863.5L1657.1,881.5L1659,882.4ZM1649.5,885.4L1659,882.4L1657.1,881.5Z" fill="#0088ff" stroke="#0088ff" stroke-width="0.8"/>
<path d="M1567.3,912L1676.3,897.4" stroke="#000" stroke-width="3.56"/>
<path d="M1676.3,897.4L1750.8,845.8" stroke="#000" stroke-width="3.83"/>
<path d="M1750.8,845.8L1641.7,874.2" stroke="#000" stroke-width="3.60"/>
<path d="M1641.7,874.2L1567.3,912" stroke="#000" stroke-width="3.72"/>
<path d="M1758.8,934L1785.3,945.8L1779.6,929.9ZM1785.3,945.8L1847.7,909.5L1779.6,929.9Z" fill="#0044ff" stroke="#0044ff" stroke-width="0.8"/>
<path d="M1676.3,897.4L1758.8,934L1779.6,929.9L1768,897.9ZM1847.7,909.5L1859.8,902.5L1768,897.9L1779.6,929.9ZM1859.8,902.5L1750.8,845.8L1768,897.9ZM1750.8,845.8L1676.3,897.4L1768,897.9Z" fill="#0088ff" stroke="#0088ff" stroke-width="0.8"/>
<path d="M1676.3,897.4L1785.3,945.8" stroke="#000" stroke-width="3.69"/>
<path d="M1785.3,945.8L1859.8,902.5" stroke="#000" stroke-width="3.76"/>
<path d="M1859.8,902.5L1750.8,845.8" stroke="#000" stroke-width="3.73"/>
<path d="M1750.8,845.8L1676.3,897.4" stroke="#000" stroke-width="3.83"/>
<path d="M1893,1006.6L1894.3,1007.4L1893.9,1006.3ZM1894.3,1007.4L1968.8,970.9L1967.2,970.7L1893.9,1006.3ZM1968.8,970.9L1967.9,970.4L1967.2,970.7Z" fill="#0000ff" stroke="#0000ff" stroke-width="0.8"/>
<path d="M1785.3,945.8L1893,1006.6L1893.9,1006.3L1877.1,956.6ZM1967.2,970.7L1877.1,956.6L1893.9,1006.3ZM1967.9,970.4L1862.6,904.3L1860.6,905.1L1877.1,956.6L1967.2,970.7ZM1847.7,909.5L1785.3,945.8L1877.1,956.6L1860.6,905.1Z" fill="#0044ff" stroke="#0044ff" stroke-width="0.8"/>
<path d="M1862.6,904.3L1859.8,902.5L1860.6,905.1ZM1859.8,902.5L1847.7,909.5L1860.6,905.1Z" fill="#0088ff" stroke="#0088ff" stroke-width="0.8"/>
<path d="M1785.3,945.8L1894.3,1007.4" stroke="#000" stroke-width="3.76"/>
<path d="M1894.3,1007.4L1968.8,970.9" stroke="#000" stroke-width="3.71"/>
<path d="M1968.8,970.9L1859.8,902.5" stroke="#000" stroke-width="3.79"/>
<path d="M1859.8,902.5L1785.3,945.8" stroke="#000" stroke-width="3.76"/>
<path d="M942.1,675.7L947.7,699.8L945.9,673.7ZM947.7,699.8L1022.2,676.7L1007.8,641.4L945.9,673.7ZM1022.2,676.7L1013.4,638.5L1007.8,641.4Z" fill="#00ffee" stroke="#00ffee" stroke-width="0.8"/>
<path d="M931.8,631.1L942.1,675.7L945.9,673.7L942.5,625.5ZM1007.8,641.4L991,600.3L942.5,625.5L945.9,673.7ZM1013.4,638.5L1003.1,594L991,600.3L1007.8,641.4Z" fill="#00ffaa" stroke="#00ffaa" stroke-width="0.8"/>
<path d="M921.6,586.5L931.8,631.1L942.5,625.5L939.2,577.4ZM991,600.3L974.2,559.1L939.2,577.4L942.5,625.5ZM1003.1,594L992.9,549.4L974.2,559.1L991,600.3Z" fill="#00ff66" stroke="#00ff66" stroke-width="0.8"/>
<path d="M911.3,541.9L921.6,586.5L939.2,577.4L935.8,529.2ZM974.2,559.1L957.5,517.9L935.8,529.2L939.2,577.4ZM992.9,549.4L982.6,504.8L957.5,517.9L974.2,559.1Z" fill="#00ff22" stroke="#00ff22" stroke-width="0.8"/>
<path d="M901,497.4L911.3,541.9L935.8,529.2L932.5,481ZM957.5,517.9L940.7,476.7L932.5,481L935.8,529.2ZM982.6,504.8L972.4,460.3L940.7,476.7L957.5,517.9Z" fill="#22ff00" stroke="#22ff00" stroke-width="0.8"/>
<path d="M890.7,452.8L901,497.4L932.5,481L930.4,451.6L923.9,435.6ZM940.7,476.7L930.4,451.6L932.5,481ZM972.4,460.3L962.1,415.7L929.1,432.8L930.4,451.6L940.7,476.7ZM923.9,435.6L930.4,451.6L929.1,432.8Z" fill="#66ff00" stroke="#66ff00" stroke-width="0.8"/>
<path d="M880.5,408.2L890.7,452.8L923.9,435.6L907.1,394.4ZM962.1,415.7L951.8,371.1L925.8,384.7L929.1,432.8ZM907.1,394.4L923.9,435.6L929.1,432.8L925.8,384.7Z" fill="#aaff00" stroke="#aaff00" stroke-width="0.8"/>
<path d="M870.2,363.6L880.5,408.2L907.1,394.4L890.3,353.2ZM951.8,371.1L941.6,326.5L922.4,336.5L925.8,384.7ZM890.3,353.2L907.1,394.4L925.8,384.7L922.4,336.5Z" fill="#eeff00" stroke="#eeff00" stroke-width="0.8"/>
<path d="M859.9,319.1L870.2,363.6L890.3,353.2L873.5,312ZM941.6,326.5L931.3,282L919.1,288.3L922.4,336.5ZM873.5,312L890.3,353.2L922.4,336.5L919.1,288.3Z" fill="#ffcc00" stroke="#ffcc00" stroke-width="0.8"/>
<path d="M849.7,274.5L859.9,319.1L873.5,312L856.6,270.9ZM931.3,282L921.1,237.4L915.7,240.2L919.1,288.3ZM856.6,270.9L873.5,312L919.1,288.3L915.7,240.2Z" fill="#ff8800" stroke="#ff8800" stroke-width="0.8"/>
<path d="M839.4,229.9L849.7,274.5L856.6,270.9L839.8,229.7ZM921.1,237.4L913.1,202.9L915.7,240.2ZM913.1,202.9L856.2,221.2L839.8,229.7L856.6,270.9L915.7,240.2Z" fill="#ff4400" stroke="#ff4400" stroke-width="0.8"/>
<path d="M838.7,226.8L839.4,229.9L839.8,229.7ZM856.2,221.2L838.7,226.8L839.8,229.7Z" fill="#ff0000" stroke="#ff0000" stroke-width="0.8"/>
<path d="M838.7,226.8L947.7,699.8" stroke="#000" stroke-width="4.36"/>
<path d="M947.7,699.8L1022.2,676.7" stroke="#000" stroke-width="3.62"/>
<path d="M1022.2,676.7L913.1,202.9" stroke="#000" stroke-width="4.36"/>
<path d="M913.1,202.9L838.7,226.8" stroke="#000" stroke-width="3.63"/>
<path d="M1043,783L1056.7,795L1051.7,777.3ZM1056.7,795L1131.2,763L1096.6,751.9L1051.7,777.3ZM1131.2,763L1107.7,744.4L1096.6,751.9Z" fill="#0088ff" stroke="#0088ff" stroke-width="0.8"/>
<path d="M977.6,726L1043,783L1051.7,777.3L1039.4,733.6L992.5,716.3ZM1096.6,751.9L1039.4,733.6L1051.7,777.3ZM1107.7,744.4L1032.9,685.2L1026.1,689.8L1039.4,733.6L1096.6,751.9ZM992.5,716.3L1039.4,733.6L1026.1,689.8Z" fill="#00ccff" stroke="#00ccff" stroke-width="0.8"/>
<path d="M947.7,699.8L977.6,726L992.5,716.3ZM1032.9,685.2L1022.2,676.7L1026.1,689.8ZM1022.2,676.7L947.7,699.8L992.5,716.3L1026.1,689.8Z" fill="#00ffee" stroke="#00ffee" stroke-width="0.8"/>
<path d="M947.7,699.8L1056.7,795" stroke="#000" stroke-width="3.92"/>
<path d="M1056.7,795L1131.2,763" stroke="#000" stroke-width="3.68"/>
<path d="M1131.2,763L1022.2,676.7" stroke="#000" stroke-width="3.88"/>
<path d="M1022.2,676.7L947.7,699.8" stroke="#000" stroke-width="3.62"/>
<path d="M1056.7,795L1165.7,832.5L1148.5,797.5ZM1165.7,832.5L1240.2,799.5L1148.5,797.5ZM1240.2,799.5L1131.2,763L1148.5,797.5ZM1131.2,763L1056.7,795L1148.5,797.5Z" fill="#0088ff" stroke="#0088ff" stroke-width="0.8"/>
<path d="M1056.7,795L1165.7,832.5" stroke="#000" stroke-width="3.64"/>
<path d="M1165.7,832.5L1240.2,799.5" stroke="#000" stroke-width="3.69"/>
<path d="M1240.2,799.5L1131.2,763" stroke="#000" stroke-width="3.64"/>
<path d="M1131.2,763L1056.7,795" stroke="#000" stroke-width="3.68"/>
<path d="M1165.7,832.5L1274.8,871.7L1257.5,834.7ZM1274.8,871.7L1349.2,835L1257.5,834.7ZM1349.2,835L1240.2,799.5L1257.5,834.7ZM1240.2,799.5L1165.7,832.5L1257.5,834.7Z" fill="#0088ff" stroke="#0088ff" stroke-width="0.8"/>
<path d="M1165.7,832.5L1274.8,871.7" stroke="#000" stroke-width="3.65"/>
<path d="M1274.8,871.7L1349.2,835" stroke="#000" stroke-width="3.72"/>
<path d="M1349.2,835L1240.2,799.5" stroke="#000" stroke-width="3.63"/>
<path d="M1240.2,799.5L1165.7,832.5" stroke="#000" stroke-width="3.69"/>
<path d="M1303,884.1L1383.8,919.6L1366.5,877.4L1322.7,874.7ZM1383.8,919.6L1458.2,883.1L1366.5,877.4ZM1458.2,883.1L1378.6,848L1358.5,857.6L1366.5,877.4ZM1322.7,874.7L1366.5,877.4L1358.5,857.6Z" fill="#0044ff" stroke="#0044ff" stroke-width="0.8"/>
<path d="M1274.8,871.7L1303,884.1L1322.7,874.7ZM1378.6,848L1349.2,835L1358.5,857.6ZM1349.2,835L1274.8,871.7L1322.7,874.7L1358.5,857.6Z" fill="#0088ff" stroke="#0088ff" stroke-width="0.8"/>
<path d="M1274.8,871.7L1383.8,919.6" stroke="#000" stroke-width="3.69"/>
<path d="M1383.8,919.6L1458.2,883.1" stroke="#000" stroke-width="3.71"/>
<path d="M1458.2,883.1L1349.2,835" stroke="#000" stroke-width="3.69"/>
<path d="M1349.2,835L1274.8,871.7" stroke="#000" stroke-width="3.72"/>
<path d="M1383.8,919.6L1492.8,950L1475.5,916.2ZM1492.8,950L1567.3,912L1475.5,916.2ZM1567.3,912L1458.2,883.1L1475.5,916.2ZM1458.2,883.1L1383.8,919.6L1475.5,916.2Z" fill="#0044ff" stroke="#0044ff" stroke-width="0.8"/>
<path d="M1383.8,919.6L1492.8,950" stroke="#000" stroke-width="3.61"/>
<path d="M1492.8,950L1567.3,912" stroke="#000" stroke-width="3.73"/>
<path d="M1567.3,912L1458.2,883.1" stroke="#000" stroke-width="3.61"/>
<path d="M1458.2,883.1L1383.8,919.6" stroke="#000" stroke-width="3.71"/>
<path d="M1492.8,950L1576.2,945.9L1591.6,933.6L1584.5,926ZM1604,920L1584.5,926L1591.6,933.6ZM1626.5,904.1L1567.3,912L1584.5,926L1604,920ZM1567.3,912L1492.8,950L1584.5,926Z" fill="#0044ff" stroke="#0044ff" stroke-width="0.8"/>
<path d="M1576.2,945.9L1601.8,944.7L1591.6,933.6ZM1601.8,944.7L1676.3,897.4L1604,920L1591.6,933.6ZM1676.3,897.4L1626.5,904.1L1604,920Z" fill="#0088ff" stroke="#0088ff" stroke-width="0.8"/>
<path d="M1492.8,950L1601.8,944.7" stroke="#000" stroke-width="3.55"/>
<path d="M1601.8,944.7L1676.3,897.4" stroke="#000" stroke-width="3.79"/>
<path d="M1676.3,897.4L1567.3,912" stroke="#000" stroke-width="3.56"/>
<path d="M1567.3,912L1492.8,950" stroke="#000" stroke-width="3.73"/>
<path d="M1644.2,961.3L1710.8,987.5L1696.2,950.6ZM1710.8,987.5L1785.3,945.8L1717.4,944.4L1696.2,950.6ZM1785.3,945.8L1758.8,934L1717.4,944.4Z" fill="#0044ff" stroke="#0044ff" stroke-width="0.8"/>
<path d="M1601.8,944.7L1644.2,961.3L1696.2,950.6L1693.6,943.9ZM1717.4,944.4L1693.6,943.9L1696.2,950.6ZM1758.8,934L1676.3,897.4L1693.6,943.9L1717.4,944.4ZM1676.3,897.4L1601.8,944.7L1693.6,943.9Z" fill="#0088ff" stroke="#0088ff" stroke-width="0.8"/>
<path d="M1601.8,944.7L1710.8,987.5" stroke="#000" stroke-width="3.66"/>
<path d="M1710.8,987.5L1785.3,945.8" stroke="#000" stroke-width="3.75"/>
<path d="M1785.3,945.8L1676.3,897.4" stroke="#000" stroke-width="3.69"/>
<path d="M1676.3,897.4L1601.8,944.7" stroke="#000" stroke-width="3.79"/>
<path d="M1814.1,1042L1819.9,1045.1L1818.2,1040.4ZM1819.9,1045.1L1894.3,1007.4L1891.9,1007.1L1818.2,1040.4ZM1894.3,1007.4L1893,1006.6L1891.9,1007.1Z" fill="#0000ff" stroke="#0000ff" stroke-width="0.8"/>
<path d="M1710.8,987.5L1814.1,1042L1818.2,1040.4L1802.6,996.4ZM1891.9,1007.1L1802.6,996.4L1818.2,1040.4ZM1893,1006.6L1785.3,945.8L1802.6,996.4L1891.9,1007.1ZM1785.3,945.8L1710.8,987.5L1802.6,996.4Z" fill="#0044ff" stroke="#0044ff" stroke-width="0.8"/>
<path d="M1710.8,987.5L1819.9,1045.1" stroke="#000" stroke-width="3.74"/>
<path d="M1819.9,1045.1L1894.3,1007.4" stroke="#000" stroke-width="3.72"/>
<path d="M1894.3,1007.4L1785.3,945.8" stroke="#000" stroke-width="3.76"/>
<path d="M1785.3,945.8L1710.8,987.5" stroke="#000" stroke-width="3.75"/>
<path d="M868.1,712.2L873.2,733.8L871.6,710.5ZM873.2,733.8L947.7,699.8L938.3,677.5L871.6,710.5ZM947.7,699.8L942.1,675.7L938.3,677.5Z" fill="#00ffee" stroke="#00ffee" stroke-width="0.8"/>
<path d="M857.7,667.6L868.1,712.2L871.6,710.5L868.3,662.4ZM938.3,677.5L920.9,636.4L868.3,662.4L871.6,710.5ZM942.1,675.7L931.8,631.1L920.9,636.4L938.3,677.5Z" fill="#00ffaa" stroke="#00ffaa" stroke-width="0.8"/>
<path d="M847.2,622.9L857.7,667.6L868.3,662.4L865,614.3ZM920.9,636.4L903.5,595.2L865,614.3L868.3,662.4ZM931.8,631.1L921.6,586.5L903.5,595.2L920.9,636.4Z" fill="#00ff66" stroke="#00ff66" stroke-width="0.8"/>
<path d="M836.7,578.3L847.2,622.9L865,614.3L861.7,566.2ZM903.5,595.2L886.2,554.1L861.7,566.2L865,614.3ZM921.6,586.5L911.3,541.9L886.2,554.1L903.5,595.2Z" fill="#00ff22" stroke="#00ff22" stroke-width="0.8"/>
<path d="M826.2,533.7L836.7,578.3L861.7,566.2L858.4,518.1ZM886.2,554.1L868.8,513L858.4,518.1L861.7,566.2ZM911.3,541.9L901,497.4L868.8,513L886.2,554.1Z" fill="#22ff00" stroke="#22ff00" stroke-width="0.8"/>
<path d="M815.7,489.1L826.2,533.7L858.4,518.1L855.9,482.5L851.3,471.8ZM868.8,513L855.9,482.5L858.4,518.1ZM901,497.4L890.7,452.8L855.1,470.1L855.9,482.5L868.8,513ZM851.3,471.8L855.9,482.5L855.1,470.1Z" fill="#66ff00" stroke="#66ff00" stroke-width="0.8"/>
<path d="M805.3,444.4L815.7,489.1L851.3,471.8L833.6,430.7ZM890.7,452.8L880.5,408.2L851.9,422.1L855.1,470.1ZM833.6,430.7L851.3,471.8L855.1,470.1L851.9,422.1Z" fill="#aaff00" stroke="#aaff00" stroke-width="0.8"/>
<path d="M794.8,399.8L805.3,444.4L833.6,430.7L815.9,389.6ZM880.5,408.2L870.2,363.6L848.6,374.1L851.9,422.1ZM815.9,389.6L833.6,430.7L851.9,422.1L848.6,374.1Z" fill="#eeff00" stroke="#eeff00" stroke-width="0.8"/>
<path d="M784.3,355.2L794.8,399.8L815.9,389.6L798.2,348.5ZM870.2,363.6L859.9,319.1L845.4,326.1L848.6,374.1ZM798.2,348.5L815.9,389.6L848.6,374.1L845.4,326.1Z" fill="#ffcc00" stroke="#ffcc00" stroke-width="0.8"/>
<path d="M773.8,310.6L784.3,355.2L798.2,348.5L780.5,307.4ZM859.9,319.1L849.7,274.5L842.1,278.1L845.4,326.1ZM780.5,307.4L798.2,348.5L845.4,326.1L842.1,278.1Z" fill="#ff8800" stroke="#ff8800" stroke-width="0.8"/>
<path d="M764.2,269.6L773.8,310.6L780.5,307.4ZM849.7,274.5L839.4,229.9L838.9,230.2L842.1,278.1ZM804.3,246.5L764.2,269.6L780.5,307.4L842.1,278.1L838.9,230.2Z" fill="#ff4400" stroke="#ff4400" stroke-width="0.8"/>
<path d="M839.4,229.9L838.7,226.8L838.9,230.2ZM838.7,226.8L804.3,246.5L838.9,230.2Z" fill="#ff0000" stroke="#ff0000" stroke-width="0.8"/>
<path d="M764.2,269.6L873.2,733.8" stroke="#000" stroke-width="4.36"/>
<path d="M873.2,733.8L947.7,699.8" stroke="#000" stroke-width="3.70"/>
<path d="M947.7,699.8L838.7,226.8" stroke="#000" stroke-width="4.36"/>
<path d="M838.7,226.8L764.2,269.6" stroke="#000" stroke-width="3.76"/>
<path d="M971.5,820.1L982.2,829.5L978.7,816.3ZM982.2,829.5L1056.7,795L1034.2,787.5L978.7,816.3ZM1056.7,795L1043,783L1034.2,787.5Z" fill="#0088ff" stroke="#0088ff" stroke-width="0.8"/>
<path d="M906.6,763.1L971.5,820.1L978.7,816.3L965,764.5L927.8,752.1ZM1034.2,787.5L965,764.5L978.7,816.3ZM1043,783L977.6,726L957.5,736.5L965,764.5L1034.2,787.5ZM927.8,752.1L965,764.5L957.5,736.5Z" fill="#00ccff" stroke="#00ccff" stroke-width="0.8"/>
<path d="M873.2,733.8L906.6,763.1L927.8,752.1ZM977.6,726L947.7,699.8L957.5,736.5ZM947.7,699.8L873.2,733.8L927.8,752.1L957.5,736.5Z" fill="#00ffee" stroke="#00ffee" stroke-width="0.8"/>
<path d="M873.2,733.8L982.2,829.5" stroke="#000" stroke-width="3.92"/>
<path d="M982.2,829.5L1056.7,795" stroke="#000" stroke-width="3.70"/>
<path d="M1056.7,795L947.7,699.8" stroke="#000" stroke-width="3.92"/>
<path d="M947.7,699.8L873.2,733.8" stroke="#000" stroke-width="3.70"/>
<path d="M982.2,829.5L1091.3,868.5L1074,831.4ZM1091.3,868.5L1165.7,832.5L1074,831.4ZM1165.7,832.5L1056.7,795L1074,831.4ZM1056.7,795L982.2,829.5L1074,831.4Z" fill="#0088ff" stroke="#0088ff" stroke-width="0.8"/>
<path d="M982.2,829.5L1091.3,868.5" stroke="#000" stroke-width="3.65"/>
<path d="M1091.3,868.5L1165.7,832.5" stroke="#000" stroke-width="3.71"/>
<path d="M1165.7,832.5L1056.7,795" stroke="#000" stroke-width="3.64"/>
<path d="M1056.7,795L982.2,829.5" stroke="#000" stroke-width="3.70"/>
<path d="M1091.3,868.5L1200.3,907L1183,869.9ZM1200.3,907L1274.8,871.7L1183,869.9ZM1274.8,871.7L1165.7,832.5L1183,869.9ZM1165.7,832.5L1091.3,868.5L1183,869.9Z" fill="#0088ff" stroke="#0088ff" stroke-width="0.8"/>
<path d="M1091.3,868.5L1200.3,907" stroke="#000" stroke-width="3.64"/>
<path d="M1200.3,907L1274.8,871.7" stroke="#000" stroke-width="3.71"/>
<path d="M1274.8,871.7L1165.7,832.5" stroke="#000" stroke-width="3.65"/>
<path d="M1165.7,832.5L1091.3,868.5" stroke="#000" stroke-width="3.71"/>
<path d="M1235.8,922.2L1309.3,953.5L1292,913L1255.5,910.6ZM1309.3,953.5L1383.8,919.6L1292,913ZM1383.8,919.6L1303,884.1L1284.4,894.8L1292,913ZM1255.5,910.6L1292,913L1284.4,894.8Z" fill="#0044ff" stroke="#0044ff" stroke-width="0.8"/>
<path d="M1200.3,907L1235.8,922.2L1255.5,910.6ZM1303,884.1L1274.8,871.7L1284.4,894.8ZM1274.8,871.7L1200.3,907L1255.5,910.6L1284.4,894.8Z" fill="#0088ff" stroke="#0088ff" stroke-width="0.8"/>
<path d="M1200.3,907L1309.3,953.5" stroke="#000" stroke-width="3.68"/>
<path d="M1309.3,953.5L1383.8,919.6" stroke="#000" stroke-width="3.70"/>
<path d="M1383.8,919.6L1274.8,871.7" stroke="#000" stroke-width="3.69"/>
<path d="M1274.8,871.7L1200.3,907" stroke="#000" stroke-width="3.71"/>
<path d="M1309.3,953.5L1418.3,989L1401,953ZM1418.3,989L1492.8,950L1401,953ZM1492.8,950L1383.8,919.6L1401,953ZM1383.8,919.6L1309.3,953.5L1401,953Z" fill="#0044ff" stroke="#0044ff" stroke-width="0.8"/>
<path d="M1309.3,953.5L1418.3,989" stroke="#000" stroke-width="3.63"/>
<path d="M1418.3,989L1492.8,950" stroke="#000" stroke-width="3.73"/>
<path d="M1492.8,950L1383.8,919.6" stroke="#000" stroke-width="3.61"/>
<path d="M1383.8,919.6L1309.3,953.5" stroke="#000" stroke-width="3.70"/>
<path d="M1418.3,989L1527.3,988.5L1510.1,968ZM1527.3,988.5L1530.9,986.4L1564.9,954.1L1510.1,968ZM1576.2,945.9L1492.8,950L1510.1,968L1564.9,954.1ZM1492.8,950L1418.3,989L1510.1,968Z" fill="#0044ff" stroke="#0044ff" stroke-width="0.8"/>
<path d="M1530.9,986.4L1601.8,944.7L1564.9,954.1ZM1601.8,944.7L1576.2,945.9L1564.9,954.1Z" fill="#0088ff" stroke="#0088ff" stroke-width="0.8"/>
<path d="M1418.3,989L1527.3,988.5" stroke="#000" stroke-width="3.55"/>
<path d="M1527.3,988.5L1601.8,944.7" stroke="#000" stroke-width="3.77"/>
<path d="M1601.8,944.7L1492.8,950" stroke="#000" stroke-width="3.55"/>
<path d="M1492.8,950L1418.3,989" stroke="#000" stroke-width="3.73"/>
<path d="M1527.3,988.5L1636.4,1028L1619.1,987.2ZM1636.4,1028L1710.8,987.5L1619.1,987.2ZM1710.8,987.5L1644.2,961.3L1612,969.8L1619.1,987.2ZM1530.9,986.4L1527.3,988.5L1619.1,987.2L1612,969.8Z" fill="#0044ff" stroke="#0044ff" stroke-width="0.8"/>
<path d="M1644.2,961.3L1601.8,944.7L1612,969.8ZM1601.8,944.7L1530.9,986.4L1612,969.8Z" fill="#0088ff" stroke="#0088ff" stroke-width="0.8"/>
<path d="M1527.3,988.5L1636.4,1028" stroke="#000" stroke-width="3.65"/>
<path d="M1636.4,1028L1710.8,987.5" stroke="#000" stroke-width="3.74"/>
<path d="M1710.8,987.5L1601.8,944.7" stroke="#000" stroke-width="3.66"/>
<path d="M1601.8,944.7L1527.3,988.5" stroke="#000" stroke-width="3.77"/>
<path d="M1738.4,1078.2L1745.4,1081.6L1743.3,1076.1ZM1745.4,1081.6L1819.9,1045.1L1809.4,1044L1743.3,1076.1ZM1819.9,1045.1L1814.1,1042L1809.4,1044Z" fill="#0000ff" stroke="#0000ff" stroke-width="0.8"/>
<path d="M1636.4,1028L1738.4,1078.2L1743.3,1076.1L1728.1,1035.5ZM1809.4,1044L1728.1,1035.5L1743.3,1076.1ZM1814.1,1042L1710.8,987.5L1728.1,1035.5L1809.4,1044ZM1710.8,987.5L1636.4,1028L1728.1,1035.5Z" fill="#0044ff" stroke="#0044ff" stroke-width="0.8"/>
<path d="M1636.4,1028L1745.4,1081.6" stroke="#000" stroke-width="3.72"/>
<path d="M1745.4,1081.6L1819.9,1045.1" stroke="#000" stroke-width="3.71"/>
<path d="M1819.9,1045.1L1710.8,987.5" stroke="#000" stroke-width="3.74"/>
<path d="M1710.8,987.5L1636.4,1028" stroke="#000" stroke-width="3.74"/>
<path d="M793.8,748.6L798.7,769L797.2,747ZM798.7,769L873.2,733.8L864.6,713.9L797.2,747ZM873.2,733.8L868.1,712.2L864.6,713.9Z" fill="#00ffee" stroke="#00ffee" stroke-width="0.8"/>
<path d="M783,703.9L793.8,748.6L797.2,747L793.8,698.8ZM864.6,713.9L846.7,672.8L793.8,698.8L797.2,747ZM868.1,712.2L857.7,667.6L846.7,672.8L864.6,713.9Z" fill="#00ffaa" stroke="#00ffaa" stroke-width="0.8"/>
<path d="M772.2,659.2L783,703.9L793.8,698.8L790.4,650.5ZM846.7,672.8L828.8,631.7L790.4,650.5L793.8,698.8ZM857.7,667.6L847.2,622.9L828.8,631.7L846.7,672.8Z" fill="#00ff66" stroke="#00ff66" stroke-width="0.8"/>
<path d="M761.3,614.5L772.2,659.2L790.4,650.5L787,602.3ZM828.8,631.7L810.9,590.6L787,602.3L790.4,650.5ZM847.2,622.9L836.7,578.3L810.9,590.6L828.8,631.7Z" fill="#00ff22" stroke="#00ff22" stroke-width="0.8"/>
<path d="M750.5,569.8L761.3,614.5L787,602.3L783.7,554.1ZM810.9,590.6L793.1,549.4L783.7,554.1L787,602.3ZM836.7,578.3L826.2,533.7L793.1,549.4L810.9,590.6Z" fill="#22ff00" stroke="#22ff00" stroke-width="0.8"/>
<path d="M739.7,525.1L750.5,569.8L783.7,554.1L781.5,522.8L775,508.4ZM793.1,549.4L781.5,522.8L783.7,554.1ZM826.2,533.7L815.7,489.1L780.3,505.9L781.5,522.8L793.1,549.4ZM775,508.4L781.5,522.8L780.3,505.9Z" fill="#66ff00" stroke="#66ff00" stroke-width="0.8"/>
<path d="M728.9,480.4L739.7,525.1L775,508.4L756.5,467.3ZM815.7,489.1L805.3,444.4L777,457.9L780.3,505.9ZM756.5,467.3L775,508.4L780.3,505.9L777,457.9Z" fill="#aaff00" stroke="#aaff00" stroke-width="0.8"/>
<path d="M718,435.7L728.9,480.4L756.5,467.3L738.1,426.2ZM805.3,444.4L794.8,399.8L773.8,409.8L777,457.9ZM738.1,426.2L756.5,467.3L777,457.9L773.8,409.8Z" fill="#eeff00" stroke="#eeff00" stroke-width="0.8"/>
<path d="M707.2,391L718,435.7L738.1,426.2L719.6,385.1ZM794.8,399.8L784.3,355.2L770.5,361.8L773.8,409.8ZM719.6,385.1L738.1,426.2L773.8,409.8L770.5,361.8Z" fill="#ffcc00" stroke="#ffcc00" stroke-width="0.8"/>
<path d="M696.4,346.3L707.2,391L719.6,385.1L701.1,344.1ZM784.3,355.2L773.8,310.6L767.2,313.7L770.5,361.8ZM701.1,344.1L719.6,385.1L770.5,361.8L767.2,313.7Z" fill="#ff8800" stroke="#ff8800" stroke-width="0.8"/>
<path d="M689.7,318.7L696.4,346.3L701.1,344.1ZM773.8,310.6L764.2,269.6L767.2,313.7ZM764.2,269.6L689.7,318.7L701.1,344.1L767.2,313.7Z" fill="#ff4400" stroke="#ff4400" stroke-width="0.8"/>
<path d="M689.7,318.7L798.7,769" stroke="#000" stroke-width="4.35"/>
<path d="M798.7,769L873.2,733.8" stroke="#000" stroke-width="3.71"/>
<path d="M873.2,733.8L764.2,269.6" stroke="#000" stroke-width="4.36"/>
<path d="M764.2,269.6L689.7,318.7" stroke="#000" stroke-width="3.81"/>
<path d="M902.7,857.8L907.8,862.1L906.1,855.9ZM907.8,862.1L982.2,829.5L964.8,823.6L906.1,855.9ZM982.2,829.5L971.5,820.1L964.8,823.6Z" fill="#0088ff" stroke="#0088ff" stroke-width="0.8"/>
<path d="M835.4,800.3L902.7,857.8L906.1,855.9L890.5,798.6L858.2,788.2ZM964.8,823.6L890.5,798.6L906.1,855.9ZM971.5,820.1L906.6,763.1L884.2,775L890.5,798.6L964.8,823.6ZM858.2,788.2L890.5,798.6L884.2,775Z" fill="#00ccff" stroke="#00ccff" stroke-width="0.8"/>
<path d="M798.7,769L835.4,800.3L858.2,788.2ZM906.6,763.1L873.2,733.8L884.2,775ZM873.2,733.8L798.7,769L858.2,788.2L884.2,775Z" fill="#00ffee" stroke="#00ffee" stroke-width="0.8"/>
<path d="M798.7,769L907.8,862.1" stroke="#000" stroke-width="3.91"/>
<path d="M907.8,862.1L982.2,829.5" stroke="#000" stroke-width="3.69"/>
<path d="M982.2,829.5L873.2,733.8" stroke="#000" stroke-width="3.92"/>
<path d="M873.2,733.8L798.7,769" stroke="#000" stroke-width="3.71"/>
<path d="M907.8,862.1L1016.8,904.3L999.5,866.1ZM1016.8,904.3L1091.3,868.5L999.5,866.1ZM1091.3,868.5L982.2,829.5L999.5,866.1ZM982.2,829.5L907.8,862.1L999.5,866.1Z" fill="#0088ff" stroke="#0088ff" stroke-width="0.8"/>
<path d="M907.8,862.1L1016.8,904.3" stroke="#000" stroke-width="3.66"/>
<path d="M1016.8,904.3L1091.3,868.5" stroke="#000" stroke-width="3.71"/>
<path d="M1091.3,868.5L982.2,829.5" stroke="#000" stroke-width="3.65"/>
<path d="M982.2,829.5L907.8,862.1" stroke="#000" stroke-width="3.69"/>
<path d="M1016.8,904.3L1125.8,943.5L1108.5,905.8ZM1125.8,943.5L1200.3,907L1108.5,905.8ZM1200.3,907L1091.3,868.5L1108.5,905.8ZM1091.3,868.5L1016.8,904.3L1108.5,905.8Z" fill="#0088ff" stroke="#0088ff" stroke-width="0.8"/>
<path d="M1016.8,904.3L1125.8,943.5" stroke="#000" stroke-width="3.65"/>
<path d="M1125.8,943.5L1200.3,907" stroke="#000" stroke-width="3.71"/>
<path d="M1200.3,907L1091.3,868.5" stroke="#000" stroke-width="3.64"/>
<path d="M1091.3,868.5L1016.8,904.3" stroke="#000" stroke-width="3.71"/>
<path d="M1162.9,958.9L1234.8,988.8L1217.6,948.2L1186.7,946.6ZM1234.8,988.8L1309.3,953.5L1217.6,948.2ZM1309.3,953.5L1235.8,922.2L1211.8,934.5L1217.6,948.2ZM1186.7,946.6L1217.6,948.2L1211.8,934.5Z" fill="#0044ff" stroke="#0044ff" stroke-width="0.8"/>
<path d="M1125.8,943.5L1162.9,958.9L1186.7,946.6ZM1235.8,922.2L1200.3,907L1211.8,934.5ZM1200.3,907L1125.8,943.5L1186.7,946.6L1211.8,934.5Z" fill="#0088ff" stroke="#0088ff" stroke-width="0.8"/>
<path d="M1125.8,943.5L1234.8,988.8" stroke="#000" stroke-width="3.68"/>
<path d="M1234.8,988.8L1309.3,953.5" stroke="#000" stroke-width="3.71"/>
<path d="M1309.3,953.5L1200.3,907" stroke="#000" stroke-width="3.68"/>
<path d="M1200.3,907L1125.8,943.5" stroke="#000" stroke-width="3.71"/>
<path d="M1234.8,988.8L1343.9,1024.8L1326.6,989ZM1343.9,1024.8L1418.3,989L1326.6,989ZM1418.3,989L1309.3,953.5L1326.6,989ZM1309.3,953.5L1234.8,988.8L1326.6,989Z" fill="#0044ff" stroke="#0044ff" stroke-width="0.8"/>
<path d="M1234.8,988.8L1343.9,1024.8" stroke="#000" stroke-width="3.63"/>
<path d="M1343.9,1024.8L1418.3,989" stroke="#000" stroke-width="3.71"/>
<path d="M1418.3,989L1309.3,953.5" stroke="#000" stroke-width="3.63"/>
<path d="M1309.3,953.5L1234.8,988.8" stroke="#000" stroke-width="3.71"/>
<path d="M1343.9,1024.8L1452.9,1025.4L1435.6,1006.9ZM1452.9,1025.4L1527.3,988.5L1435.6,1006.9ZM1527.3,988.5L1418.3,989L1435.6,1006.9ZM1418.3,989L1343.9,1024.8L1435.6,1006.9Z" fill="#0044ff" stroke="#0044ff" stroke-width="0.8"/>
<path d="M1343.9,1024.8L1452.9,1025.4" stroke="#000" stroke-width="3.55"/>
<path d="M1452.9,1025.4L1527.3,988.5" stroke="#000" stroke-width="3.72"/>
<path d="M1527.3,988.5L1418.3,989" stroke="#000" stroke-width="3.55"/>
<path d="M1418.3,989L1343.9,1024.8" stroke="#000" stroke-width="3.71"/>
<path d="M1452.9,1025.4L1561.9,1066L1544.6,1027ZM1561.9,1066L1636.4,1028L1544.6,1027ZM1636.4,1028L1527.3,988.5L1544.6,1027ZM1527.3,988.5L1452.9,1025.4L1544.6,1027Z" fill="#0044ff" stroke="#0044ff" stroke-width="0.8"/>
<path d="M1452.9,1025.4L1561.9,1066" stroke="#000" stroke-width="3.65"/>
<path d="M1561.9,1066L1636.4,1028" stroke="#000" stroke-width="3.73"/>
<path d="M1636.4,1028L1527.3,988.5" stroke="#000" stroke-width="3.65"/>
<path d="M1527.3,988.5L1452.9,1025.4" stroke="#000" stroke-width="3.72"/>
<path d="M1661.4,1114L1670.9,1118.6L1668,1111ZM1670.9,1118.6L1745.4,1081.6L1733.2,1080.5L1668,1111ZM1745.4,1081.6L1738.4,1078.2L1733.2,1080.5Z" fill="#0000ff" stroke="#0000ff" stroke-width="0.8"/>
<path d="M1561.9,1066L1661.4,1114L1668,1111L1653.6,1073.5ZM1733.2,1080.5L1653.6,1073.5L1668,1111ZM1738.4,1078.2L1636.4,1028L1653.6,1073.5L1733.2,1080.5ZM1636.4,1028L1561.9,1066L1653.6,1073.5Z" fill="#0044ff" stroke="#0044ff" stroke-width="0.8"/>
<path d="M1561.9,1066L1670.9,1118.6" stroke="#000" stroke-width="3.71"/>
<path d="M1670.9,1118.6L1745.4,1081.6" stroke="#000" stroke-width="3.72"/>
<path d="M1745.4,1081.6L1636.4,1028" stroke="#000" stroke-width="3.72"/>
<path d="M1636.4,1028L1561.9,1066" stroke="#000" stroke-width="3.73"/>
<path d="M718.8,784.9L724.3,806.8L722.6,783.1ZM724.3,806.8L798.7,769L790.3,750.3L722.6,783.1ZM798.7,769L793.8,748.6L790.3,750.3Z" fill="#00ffee" stroke="#00ffee" stroke-width="0.8"/>
<path d="M707.7,740.1L718.8,784.9L722.6,783.1L719.1,734.7ZM790.3,750.3L771.7,709.2L719.1,734.7L722.6,783.1ZM793.8,748.6L783,703.9L771.7,709.2L790.3,750.3Z" fill="#00ffaa" stroke="#00ffaa" stroke-width="0.8"/>
<path d="M696.5,695.3L707.7,740.1L719.1,734.7L715.6,686.4ZM771.7,709.2L753.2,668.1L715.6,686.4L719.1,734.7ZM783,703.9L772.2,659.2L753.2,668.1L771.7,709.2Z" fill="#00ff66" stroke="#00ff66" stroke-width="0.8"/>
<path d="M685.4,650.6L696.5,695.3L715.6,686.4L712.2,638ZM753.2,668.1L734.6,627.1L712.2,638L715.6,686.4ZM772.2,659.2L761.3,614.5L734.6,627.1L753.2,668.1Z" fill="#00ff22" stroke="#00ff22" stroke-width="0.8"/>
<path d="M674.2,605.8L685.4,650.6L712.2,638L708.7,589.6ZM734.6,627.1L716.1,586L708.7,589.6L712.2,638ZM761.3,614.5L750.5,569.8L716.1,586L734.6,627.1Z" fill="#22ff00" stroke="#22ff00" stroke-width="0.8"/>
<path d="M663.1,561L674.2,605.8L708.7,589.6L707,565.9L697.2,545ZM716.1,586L707,565.9L708.7,589.6ZM750.5,569.8L739.7,525.1L705.3,541.3L707,565.9L716.1,586ZM697.2,545L707,565.9L705.3,541.3Z" fill="#66ff00" stroke="#66ff00" stroke-width="0.8"/>
<path d="M651.9,516.3L663.1,561L697.2,545L678.1,503.9ZM739.7,525.1L728.9,480.4L701.9,493.1L705.3,541.3ZM678.1,503.9L697.2,545L705.3,541.3L701.9,493.1Z" fill="#aaff00" stroke="#aaff00" stroke-width="0.8"/>
<path d="M640.8,471.5L651.9,516.3L678.1,503.9L659,462.9ZM728.9,480.4L718,435.7L698.5,444.9L701.9,493.1ZM659,462.9L678.1,503.9L701.9,493.1L698.5,444.9Z" fill="#eeff00" stroke="#eeff00" stroke-width="0.8"/>
<path d="M629.6,426.7L640.8,471.5L659,462.9L639.9,421.9ZM718,435.7L707.2,391L695.2,396.7L698.5,444.9ZM639.9,421.9L659,462.9L698.5,444.9L695.2,396.7Z" fill="#ffcc00" stroke="#ffcc00" stroke-width="0.8"/>
<path d="M618.5,381.9L629.6,426.7L639.9,421.9L620.8,380.8ZM707.2,391L696.4,346.3L691.8,348.5L695.2,396.7ZM620.8,380.8L639.9,421.9L695.2,396.7L691.8,348.5Z" fill="#ff8800" stroke="#ff8800" stroke-width="0.8"/>
<path d="M615.2,369L618.5,381.9L620.8,380.8ZM696.4,346.3L689.7,318.7L691.8,348.5ZM689.7,318.7L615.2,369L620.8,380.8L691.8,348.5Z" fill="#ff4400" stroke="#ff4400" stroke-width="0.8"/>
<path d="M615.2,369L724.3,806.8" stroke="#000" stroke-width="4.35"/>
<path d="M724.3,806.8L798.7,769" stroke="#000" stroke-width="3.72"/>
<path d="M798.7,769L689.7,318.7" stroke="#000" stroke-width="4.35"/>
<path d="M689.7,318.7L615.2,369" stroke="#000" stroke-width="3.82"/>
<path d="M831.5,894.9L833.3,896.4L832.7,894.3ZM833.3,896.4L907.8,862.1L899.2,859.5L832.7,894.3ZM907.8,862.1L902.7,857.8L899.2,859.5Z" fill="#0088ff" stroke="#0088ff" stroke-width="0.8"/>
<path d="M760.5,836.6L831.5,894.9L832.7,894.3L816,833.6L784.9,824.5ZM899.2,859.5L816,833.6L832.7,894.3ZM902.7,857.8L835.4,800.3L810.4,812.6L816,833.6L899.2,859.5ZM784.9,824.5L816,833.6L810.4,812.6Z" fill="#00ccff" stroke="#00ccff" stroke-width="0.8"/>
<path d="M724.3,806.8L760.5,836.6L784.9,824.5ZM835.4,800.3L798.7,769L810.4,812.6ZM798.7,769L724.3,806.8L784.9,824.5L810.4,812.6Z" fill="#00ffee" stroke="#00ffee" stroke-width="0.8"/>
<path d="M724.3,806.8L833.3,896.4" stroke="#000" stroke-width="3.89"/>
<path d="M833.3,896.4L907.8,862.1" stroke="#000" stroke-width="3.70"/>
<path d="M907.8,862.1L798.7,769" stroke="#000" stroke-width="3.91"/>
<path d="M798.7,769L724.3,806.8" stroke="#000" stroke-width="3.72"/>
<path d="M833.3,896.4L942.3,939.4L925,900.5ZM942.3,939.4L1016.8,904.3L925,900.5ZM1016.8,904.3L907.8,862.1L925,900.5ZM907.8,862.1L833.3,896.4L925,900.5Z" fill="#0088ff" stroke="#0088ff" stroke-width="0.8"/>
<path d="M833.3,896.4L942.3,939.4" stroke="#000" stroke-width="3.66"/>
<path d="M942.3,939.4L1016.8,904.3" stroke="#000" stroke-width="3.70"/>
<path d="M1016.8,904.3L907.8,862.1" stroke="#000" stroke-width="3.66"/>
<path d="M907.8,862.1L833.3,896.4" stroke="#000" stroke-width="3.70"/>
<path d="M942.3,939.4L1051.3,980.2L1034.1,941.9ZM1051.3,980.2L1125.8,943.5L1034.1,941.9ZM1125.8,943.5L1016.8,904.3L1034.1,941.9ZM1016.8,904.3L942.3,939.4L1034.1,941.9Z" fill="#0088ff" stroke="#0088ff" stroke-width="0.8"/>
<path d="M942.3,939.4L1051.3,980.2" stroke="#000" stroke-width="3.65"/>
<path d="M1051.3,980.2L1125.8,943.5" stroke="#000" stroke-width="3.72"/>
<path d="M1125.8,943.5L1016.8,904.3" stroke="#000" stroke-width="3.65"/>
<path d="M1016.8,904.3L942.3,939.4" stroke="#000" stroke-width="3.70"/>
<path d="M1087.2,995L1160.4,1025.3L1143.1,984.5L1112.2,983ZM1160.4,1025.3L1234.8,988.8L1143.1,984.5ZM1234.8,988.8L1162.9,958.9L1137.4,971.1L1143.1,984.5ZM1112.2,983L1143.1,984.5L1137.4,971.1Z" fill="#0044ff" stroke="#0044ff" stroke-width="0.8"/>
<path d="M1051.3,980.2L1087.2,995L1112.2,983ZM1162.9,958.9L1125.8,943.5L1137.4,971.1ZM1125.8,943.5L1051.3,980.2L1112.2,983L1137.4,971.1Z" fill="#0088ff" stroke="#0088ff" stroke-width="0.8"/>
<path d="M1051.3,980.2L1160.4,1025.3" stroke="#000" stroke-width="3.67"/>
<path d="M1160.4,1025.3L1234.8,988.8" stroke="#000" stroke-width="3.71"/>
<path d="M1234.8,988.8L1125.8,943.5" stroke="#000" stroke-width="3.68"/>
<path d="M1125.8,943.5L1051.3,980.2" stroke="#000" stroke-width="3.72"/>
<path d="M1160.4,1025.3L1269.4,1061.2L1252.1,1025ZM1269.4,1061.2L1343.9,1024.8L1252.1,1025ZM1343.9,1024.8L1234.8,988.8L1252.1,1025ZM1234.8,988.8L1160.4,1025.3L1252.1,1025Z" fill="#0044ff" stroke="#0044ff" stroke-width="0.8"/>
<path d="M1160.4,1025.3L1269.4,1061.2" stroke="#000" stroke-width="3.63"/>
<path d="M1269.4,1061.2L1343.9,1024.8" stroke="#000" stroke-width="3.71"/>
<path d="M1343.9,1024.8L1234.8,988.8" stroke="#000" stroke-width="3.63"/>
<path d="M1234.8,988.8L1160.4,1025.3" stroke="#000" stroke-width="3.71"/>
<path d="M1269.4,1061.2L1376.9,1060.6L1377.9,1060.1L1361.1,1043ZM1399.8,1050.5L1452.9,1025.4L1361.1,1043L1377.9,1060.1ZM1452.9,1025.4L1343.9,1024.8L1361.1,1043ZM1343.9,1024.8L1269.4,1061.2L1361.1,1043Z" fill="#0044ff" stroke="#0044ff" stroke-width="0.8"/>
<path d="M1376.9,1060.6L1378.4,1060.6L1377.9,1060.1ZM1378.4,1060.6L1399.8,1050.5L1377.9,1060.1Z" fill="#0088ff" stroke="#0088ff" stroke-width="0.8"/>
<path d="M1269.4,1061.2L1378.4,1060.6" stroke="#000" stroke-width="3.55"/>
<path d="M1378.4,1060.6L1452.9,1025.4" stroke="#000" stroke-width="3.71"/>
<path d="M1452.9,1025.4L1343.9,1024.8" stroke="#000" stroke-width="3.55"/>
<path d="M1343.9,1024.8L1269.4,1061.2" stroke="#000" stroke-width="3.71"/>
<path d="M1380.5,1061.4L1487.4,1103.4L1470.1,1063.8L1381.9,1060.7ZM1487.4,1103.4L1561.9,1066L1470.1,1063.8ZM1561.9,1066L1452.9,1025.4L1470.1,1063.8ZM1452.9,1025.4L1399.8,1050.5L1381.9,1060.7L1470.1,1063.8Z" fill="#0044ff" stroke="#0044ff" stroke-width="0.8"/>
<path d="M1378.4,1060.6L1380.5,1061.4L1381.9,1060.7ZM1399.8,1050.5L1378.4,1060.6L1381.9,1060.7Z" fill="#0088ff" stroke="#0088ff" stroke-width="0.8"/>
<path d="M1378.4,1060.6L1487.4,1103.4" stroke="#000" stroke-width="3.66"/>
<path d="M1487.4,1103.4L1561.9,1066" stroke="#000" stroke-width="3.72"/>
<path d="M1561.9,1066L1452.9,1025.4" stroke="#000" stroke-width="3.65"/>
<path d="M1452.9,1025.4L1378.4,1060.6" stroke="#000" stroke-width="3.71"/>
<path d="M1586.2,1150.2L1596.4,1155.1L1593.2,1146.9ZM1596.4,1155.1L1670.9,1118.6L1654.5,1117.2L1593.2,1146.9ZM1670.9,1118.6L1661.4,1114L1654.5,1117.2Z" fill="#0000ff" stroke="#0000ff" stroke-width="0.8"/>
<path d="M1487.4,1103.4L1586.2,1150.2L1593.2,1146.9L1579.2,1110.8ZM1654.5,1117.2L1579.2,1110.8L1593.2,1146.9ZM1661.4,1114L1561.9,1066L1579.2,1110.8L1654.5,1117.2ZM1561.9,1066L1487.4,1103.4L1579.2,1110.8Z" fill="#0044ff" stroke="#0044ff" stroke-width="0.8"/>
<path d="M1487.4,1103.4L1596.4,1155.1" stroke="#000" stroke-width="3.71"/>
<path d="M1596.4,1155.1L1670.9,1118.6" stroke="#000" stroke-width="3.71"/>
<path d="M1670.9,1118.6L1561.9,1066" stroke="#000" stroke-width="3.71"/>
<path d="M1561.9,1066L1487.4,1103.4" stroke="#000" stroke-width="3.72"/>
<path d="M643,821L649.8,847.5L647.7,818.8ZM649.8,847.5L724.3,806.8L714.9,786.7L647.7,818.8ZM724.3,806.8L718.8,784.9L714.9,786.7Z" fill="#00ffee" stroke="#00ffee" stroke-width="0.8"/>
<path d="M631.6,776.2L643,821L647.7,818.8L644.2,770.3ZM714.9,786.7L695.7,745.7L644.2,770.3L647.7,818.8ZM718.8,784.9L707.7,740.1L695.7,745.7L714.9,786.7Z" fill="#00ffaa" stroke="#00ffaa" stroke-width="0.8"/>
<path d="M620.2,731.3L631.6,776.2L644.2,770.3L640.6,721.8ZM695.7,745.7L676.5,704.7L640.6,721.8L644.2,770.3ZM707.7,740.1L696.5,695.3L676.5,704.7L695.7,745.7Z" fill="#00ff66" stroke="#00ff66" stroke-width="0.8"/>
<path d="M608.8,686.5L620.2,731.3L640.6,721.8L637.1,673.3ZM676.5,704.7L657.3,663.7L637.1,673.3L640.6,721.8ZM696.5,695.3L685.4,650.6L657.3,663.7L676.5,704.7Z" fill="#00ff22" stroke="#00ff22" stroke-width="0.8"/>
<path d="M597.4,641.7L608.8,686.5L637.1,673.3L633.6,624.8ZM657.3,663.7L638.1,622.6L633.6,624.8L637.1,673.3ZM685.4,650.6L674.2,605.8L638.1,622.6L657.3,663.7Z" fill="#22ff00" stroke="#22ff00" stroke-width="0.8"/>
<path d="M586,596.8L597.4,641.7L633.6,624.8L632.5,610.7L618.6,581.6ZM638.1,622.6L632.5,610.7L633.6,624.8ZM674.2,605.8L663.1,561L630.1,576.4L632.5,610.7L638.1,622.6ZM618.6,581.6L632.5,610.7L630.1,576.4Z" fill="#66ff00" stroke="#66ff00" stroke-width="0.8"/>
<path d="M574.5,552L586,596.8L618.6,581.6L598.9,540.6ZM663.1,561L651.9,516.3L626.6,528L630.1,576.4ZM598.9,540.6L618.6,581.6L630.1,576.4L626.6,528Z" fill="#aaff00" stroke="#aaff00" stroke-width="0.8"/>
<path d="M563.1,507.2L574.5,552L598.9,540.6L579.3,499.6ZM651.9,516.3L640.8,471.5L623.2,479.7L626.6,528ZM579.3,499.6L598.9,540.6L626.6,528L623.2,479.7Z" fill="#eeff00" stroke="#eeff00" stroke-width="0.8"/>
<path d="M551.7,462.3L563.1,507.2L579.3,499.6L559.6,458.6ZM640.8,471.5L629.6,426.7L619.7,431.3L623.2,479.7ZM559.6,458.6L579.3,499.6L623.2,479.7L619.7,431.3Z" fill="#ffcc00" stroke="#ffcc00" stroke-width="0.8"/>
<path d="M540.8,419.4L551.7,462.3L559.6,458.6ZM629.6,426.7L618.5,381.9L616.2,383L619.7,431.3ZM550.3,412.9L540.8,419.4L559.6,458.6L619.7,431.3L616.2,383Z" fill="#ff8800" stroke="#ff8800" stroke-width="0.8"/>
<path d="M618.5,381.9L615.2,369L616.2,383ZM615.2,369L550.3,412.9L616.2,383Z" fill="#ff4400" stroke="#ff4400" stroke-width="0.8"/>
<path d="M540.8,419.4L649.8,847.5" stroke="#000" stroke-width="4.35"/>
<path d="M649.8,847.5L724.3,806.8" stroke="#000" stroke-width="3.75"/>
<path d="M724.3,806.8L615.2,369" stroke="#000" stroke-width="4.35"/>
<path d="M615.2,369L540.8,419.4" stroke="#000" stroke-width="3.82"/>
<path d="M682.4,872.2L758.8,930L741.5,870.2L705.3,861.2ZM758.8,930L804.2,909.5L830.2,895.5L741.5,870.2ZM831.5,894.9L760.5,836.6L735.6,848.4L741.5,870.2L830.2,895.5ZM705.3,861.2L741.5,870.2L735.6,848.4Z" fill="#00ccff" stroke="#00ccff" stroke-width="0.8"/>
<path d="M649.8,847.5L682.4,872.2L705.3,861.2ZM760.5,836.6L724.3,806.8L735.6,848.4ZM724.3,806.8L649.8,847.5L705.3,861.2L735.6,848.4Z" fill="#00ffee" stroke="#00ffee" stroke-width="0.8"/>
<path d="M804.2,909.5L833.3,896.4L830.2,895.5ZM833.3,896.4L831.5,894.9L830.2,895.5Z" fill="#0088ff" stroke="#0088ff" stroke-width="0.8"/>
<path d="M649.8,847.5L758.8,930" stroke="#000" stroke-width="3.86"/>
<path d="M758.8,930L833.3,896.4" stroke="#000" stroke-width="3.69"/>
<path d="M833.3,896.4L724.3,806.8" stroke="#000" stroke-width="3.89"/>
<path d="M724.3,806.8L649.8,847.5" stroke="#000" stroke-width="3.75"/>
<path d="M767.1,933.6L867.8,977.1L850.6,935.7L772.3,930.8ZM867.8,977.1L942.3,939.4L850.6,935.7ZM942.3,939.4L833.3,896.4L850.6,935.7ZM833.3,896.4L804.2,909.5L772.3,930.8L850.6,935.7Z" fill="#0088ff" stroke="#0088ff" stroke-width="0.8"/>
<path d="M758.8,930L767.1,933.6L772.3,930.8ZM804.2,909.5L758.8,930L772.3,930.8Z" fill="#00ccff" stroke="#00ccff" stroke-width="0.8"/>
<path d="M758.8,930L867.8,977.1" stroke="#000" stroke-width="3.68"/>
<path d="M867.8,977.1L942.3,939.4" stroke="#000" stroke-width="3.72"/>
<path d="M942.3,939.4L833.3,896.4" stroke="#000" stroke-width="3.66"/>
<path d="M833.3,896.4L758.8,930" stroke="#000" stroke-width="3.69"/>
<path d="M867.8,977.1L976.9,1019.9L959.6,979.1ZM976.9,1019.9L1051.3,980.2L959.6,979.1ZM1051.3,980.2L942.3,939.4L959.6,979.1ZM942.3,939.4L867.8,977.1L959.6,979.1Z" fill="#0088ff" stroke="#0088ff" stroke-width="0.8"/>
<path d="M867.8,977.1L976.9,1019.9" stroke="#000" stroke-width="3.66"/>
<path d="M976.9,1019.9L1051.3,980.2" stroke="#000" stroke-width="3.74"/>
<path d="M1051.3,980.2L942.3,939.4" stroke="#000" stroke-width="3.65"/>
<path d="M942.3,939.4L867.8,977.1" stroke="#000" stroke-width="3.72"/>
<path d="M996,1027.6L1085.9,1064L1068.6,1022.4L1014.5,1020.9ZM1085.9,1064L1160.4,1025.3L1068.6,1022.4ZM1160.4,1025.3L1087.2,995L1061.3,1004.6L1068.6,1022.4ZM1014.5,1020.9L1068.6,1022.4L1061.3,1004.6Z" fill="#0044ff" stroke="#0044ff" stroke-width="0.8"/>
<path d="M976.9,1019.9L996,1027.6L1014.5,1020.9ZM1087.2,995L1051.3,980.2L1061.3,1004.6ZM1051.3,980.2L976.9,1019.9L1014.5,1020.9L1061.3,1004.6Z" fill="#0088ff" stroke="#0088ff" stroke-width="0.8"/>
<path d="M976.9,1019.9L1085.9,1064" stroke="#000" stroke-width="3.67"/>
<path d="M1085.9,1064L1160.4,1025.3" stroke="#000" stroke-width="3.73"/>
<path d="M1160.4,1025.3L1051.3,980.2" stroke="#000" stroke-width="3.67"/>
<path d="M1051.3,980.2L976.9,1019.9" stroke="#000" stroke-width="3.74"/>
<path d="M1085.9,1064L1194.9,1097.5L1177.6,1062ZM1194.9,1097.5L1269.4,1061.2L1177.6,1062ZM1269.4,1061.2L1160.4,1025.3L1177.6,1062ZM1160.4,1025.3L1085.9,1064L1177.6,1062Z" fill="#0044ff" stroke="#0044ff" stroke-width="0.8"/>
<path d="M1085.9,1064L1194.9,1097.5" stroke="#000" stroke-width="3.62"/>
<path d="M1194.9,1097.5L1269.4,1061.2" stroke="#000" stroke-width="3.71"/>
<path d="M1269.4,1061.2L1160.4,1025.3" stroke="#000" stroke-width="3.63"/>
<path d="M1160.4,1025.3L1085.9,1064" stroke="#000" stroke-width="3.73"/>
<path d="M1194.9,1097.5L1287.1,1093.5L1298.9,1088.5L1286.7,1078ZM1375.7,1061.1L1286.7,1078L1298.9,1088.5ZM1376.9,1060.6L1269.4,1061.2L1286.7,1078L1375.7,1061.1ZM1269.4,1061.2L1194.9,1097.5L1286.7,1078Z" fill="#0044ff" stroke="#0044ff" stroke-width="0.8"/>
<path d="M1287.1,1093.5L1303.9,1092.8L1298.9,1088.5ZM1303.9,1092.8L1378.4,1060.6L1375.7,1061.1L1298.9,1088.5ZM1378.4,1060.6L1376.9,1060.6L1375.7,1061.1Z" fill="#0088ff" stroke="#0088ff" stroke-width="0.8"/>
<path d="M1194.9,1097.5L1303.9,1092.8" stroke="#000" stroke-width="3.55"/>
<path d="M1303.9,1092.8L1378.4,1060.6" stroke="#000" stroke-width="3.68"/>
<path d="M1378.4,1060.6L1269.4,1061.2" stroke="#000" stroke-width="3.55"/>
<path d="M1269.4,1061.2L1194.9,1097.5" stroke="#000" stroke-width="3.71"/>
<path d="M1327.4,1102.7L1413,1138.6L1395.7,1098.8L1338.9,1095.1ZM1413,1138.6L1487.4,1103.4L1395.7,1098.8ZM1487.4,1103.4L1380.5,1061.4L1379.2,1062.3L1395.7,1098.8ZM1338.9,1095.1L1395.7,1098.8L1379.2,1062.3Z" fill="#0044ff" stroke="#0044ff" stroke-width="0.8"/>
<path d="M1303.9,1092.8L1327.4,1102.7L1338.9,1095.1ZM1380.5,1061.4L1378.4,1060.6L1379.2,1062.3ZM1378.4,1060.6L1303.9,1092.8L1338.9,1095.1L1379.2,1062.3Z" fill="#0088ff" stroke="#0088ff" stroke-width="0.8"/>
<path d="M1303.9,1092.8L1413,1138.6" stroke="#000" stroke-width="3.68"/>
<path d="M1413,1138.6L1487.4,1103.4" stroke="#000" stroke-width="3.71"/>
<path d="M1487.4,1103.4L1378.4,1060.6" stroke="#000" stroke-width="3.66"/>
<path d="M1378.4,1060.6L1303.9,1092.8" stroke="#000" stroke-width="3.68"/>
<path d="M1511.8,1186.6L1522,1191.6L1518.7,1183.1ZM1522,1191.6L1596.4,1155.1L1579.5,1153.6L1518.7,1183.1ZM1596.4,1155.1L1586.2,1150.2L1579.5,1153.6Z" fill="#0000ff" stroke="#0000ff" stroke-width="0.8"/>
<path d="M1413,1138.6L1511.8,1186.6L1518.7,1183.1L1504.7,1147.2ZM1579.5,1153.6L1504.7,1147.2L1518.7,1183.1ZM1586.2,1150.2L1487.4,1103.4L1504.7,1147.2L1579.5,1153.6ZM1487.4,1103.4L1413,1138.6L1504.7,1147.2Z" fill="#0044ff" stroke="#0044ff" stroke-width="0.8"/>
<path d="M1413,1138.6L1522,1191.6" stroke="#000" stroke-width="3.71"/>
<path d="M1522,1191.6L1596.4,1155.1" stroke="#000" stroke-width="3.71"/>
<path d="M1596.4,1155.1L1487.4,1103.4" stroke="#000" stroke-width="3.71"/>
<path d="M1487.4,1103.4L1413,1138.6" stroke="#000" stroke-width="3.71"/>
<path d="M567,857L575.3,888.8L572.8,854.4ZM575.3,888.8L649.8,847.5L638.1,823.3L572.8,854.4ZM649.8,847.5L643,821L638.1,823.3Z" fill="#00ffee" stroke="#00ffee" stroke-width="0.8"/>
<path d="M555.1,812.1L567,857L572.8,854.4L569.1,805.7ZM638.1,823.3L618.3,782.3L569.1,805.7L572.8,854.4ZM643,821L631.6,776.2L618.3,782.3L638.1,823.3Z" fill="#00ffaa" stroke="#00ffaa" stroke-width="0.8"/>
<path d="M543.3,767.2L555.1,812.1L569.1,805.7L565.5,757ZM618.3,782.3L598.5,741.3L565.5,757L569.1,805.7ZM631.6,776.2L620.2,731.3L598.5,741.3L618.3,782.3Z" fill="#00ff66" stroke="#00ff66" stroke-width="0.8"/>
<path d="M531.5,722.3L543.3,767.2L565.5,757L561.8,708.3ZM598.5,741.3L578.7,700.3L561.8,708.3L565.5,757ZM620.2,731.3L608.8,686.5L578.7,700.3L598.5,741.3Z" fill="#00ff22" stroke="#00ff22" stroke-width="0.8"/>
<path d="M519.7,677.3L531.5,722.3L561.8,708.3L558.2,659.7ZM578.7,700.3L558.9,659.3L558.2,659.7L561.8,708.3ZM608.8,686.5L597.4,641.7L558.9,659.3L578.7,700.3Z" fill="#22ff00" stroke="#22ff00" stroke-width="0.8"/>
<path d="M507.9,632.4L519.7,677.3L558.2,659.7L558,657.5L538.4,618.4ZM558.9,659.3L558,657.5L558.2,659.7ZM597.4,641.7L586,596.8L554.7,611.2L558,657.5L558.9,659.3ZM538.4,618.4L558,657.5L554.7,611.2Z" fill="#66ff00" stroke="#66ff00" stroke-width="0.8"/>
<path d="M496,587.5L507.9,632.4L538.4,618.4L517.9,577.5ZM586,596.8L574.5,552L551.2,562.7L554.7,611.2ZM517.9,577.5L538.4,618.4L554.7,611.2L551.2,562.7Z" fill="#aaff00" stroke="#aaff00" stroke-width="0.8"/>
<path d="M484.2,542.6L496,587.5L517.9,577.5L497.4,536.5ZM574.5,552L563.1,507.2L547.7,514.3L551.2,562.7ZM497.4,536.5L517.9,577.5L551.2,562.7L547.7,514.3Z" fill="#eeff00" stroke="#eeff00" stroke-width="0.8"/>
<path d="M472.4,497.6L484.2,542.6L497.4,536.5L476.9,495.6ZM563.1,507.2L551.7,462.3L544.1,465.8L547.7,514.3ZM476.9,495.6L497.4,536.5L547.7,514.3L544.1,465.8Z" fill="#ffcc00" stroke="#ffcc00" stroke-width="0.8"/>
<path d="M466.3,474.5L472.4,497.6L476.9,495.6ZM551.7,462.3L540.8,419.4L544.1,465.8ZM540.8,419.4L466.3,474.5L476.9,495.6L544.1,465.8Z" fill="#ff8800" stroke="#ff8800" stroke-width="0.8"/>
<path d="M466.3,474.5L575.3,888.8" stroke="#000" stroke-width="4.34"/>
<path d="M575.3,888.8L649.8,847.5" stroke="#000" stroke-width="3.75"/>
<path d="M649.8,847.5L540.8,419.4" stroke="#000" stroke-width="4.35"/>
<path d="M540.8,419.4L466.3,474.5" stroke="#000" stroke-width="3.85"/>
<path d="M602.4,907.3L684.3,963.3L667.1,907.4L621.7,898.2ZM684.3,963.3L758.8,930L667.1,907.4ZM758.8,930L682.4,872.2L660,882.7L667.1,907.4ZM621.7,898.2L667.1,907.4L660,882.7Z" fill="#00ccff" stroke="#00ccff" stroke-width="0.8"/>
<path d="M575.3,888.8L602.4,907.3L621.7,898.2ZM682.4,872.2L649.8,847.5L660,882.7ZM649.8,847.5L575.3,888.8L621.7,898.2L660,882.7Z" fill="#00ffee" stroke="#00ffee" stroke-width="0.8"/>
<path d="M575.3,888.8L684.3,963.3" stroke="#000" stroke-width="3.82"/>
<path d="M684.3,963.3L758.8,930" stroke="#000" stroke-width="3.69"/>
<path d="M758.8,930L649.8,847.5" stroke="#000" stroke-width="3.86"/>
<path d="M649.8,847.5L575.3,888.8" stroke="#000" stroke-width="3.75"/>
<path d="M703.8,972.5L793.4,1014.9L776.1,971.3L716.1,966.1ZM793.4,1014.9L867.8,977.1L776.1,971.3ZM867.8,977.1L767.1,933.6L761.5,936.5L776.1,971.3ZM716.1,966.1L776.1,971.3L761.5,936.5Z" fill="#0088ff" stroke="#0088ff" stroke-width="0.8"/>
<path d="M684.3,963.3L703.8,972.5L716.1,966.1ZM767.1,933.6L758.8,930L761.5,936.5ZM758.8,930L684.3,963.3L716.1,966.1L761.5,936.5Z" fill="#00ccff" stroke="#00ccff" stroke-width="0.8"/>
<path d="M684.3,963.3L793.4,1014.9" stroke="#000" stroke-width="3.71"/>
<path d="M793.4,1014.9L867.8,977.1" stroke="#000" stroke-width="3.72"/>
<path d="M867.8,977.1L758.8,930" stroke="#000" stroke-width="3.68"/>
<path d="M758.8,930L684.3,963.3" stroke="#000" stroke-width="3.69"/>
<path d="M793.4,1014.9L902.4,1057.6L885.1,1017.4ZM902.4,1057.6L976.9,1019.9L885.1,1017.4ZM976.9,1019.9L867.8,977.1L885.1,1017.4ZM867.8,977.1L793.4,1014.9L885.1,1017.4Z" fill="#0088ff" stroke="#0088ff" stroke-width="0.8"/>
<path d="M793.4,1014.9L902.4,1057.6" stroke="#000" stroke-width="3.66"/>
<path d="M902.4,1057.6L976.9,1019.9" stroke="#000" stroke-width="3.72"/>
<path d="M976.9,1019.9L867.8,977.1" stroke="#000" stroke-width="3.66"/>
<path d="M867.8,977.1L793.4,1014.9" stroke="#000" stroke-width="3.72"/>
<path d="M913.5,1062.2L1011.4,1103L994.1,1061.1L923,1058.4ZM1011.4,1103L1085.9,1064L994.1,1061.1ZM1085.9,1064L996,1027.6L982.4,1033.1L994.1,1061.1ZM923,1058.4L994.1,1061.1L982.4,1033.1Z" fill="#0044ff" stroke="#0044ff" stroke-width="0.8"/>
<path d="M902.4,1057.6L913.5,1062.2L923,1058.4ZM996,1027.6L976.9,1019.9L982.4,1033.1ZM976.9,1019.9L902.4,1057.6L923,1058.4L982.4,1033.1Z" fill="#0088ff" stroke="#0088ff" stroke-width="0.8"/>
<path d="M902.4,1057.6L1011.4,1103" stroke="#000" stroke-width="3.68"/>
<path d="M1011.4,1103L1085.9,1064" stroke="#000" stroke-width="3.73"/>
<path d="M1085.9,1064L976.9,1019.9" stroke="#000" stroke-width="3.67"/>
<path d="M976.9,1019.9L902.4,1057.6" stroke="#000" stroke-width="3.72"/>
<path d="M1011.4,1103L1120.4,1132.2L1103.2,1099.2ZM1120.4,1132.2L1194.9,1097.5L1103.2,1099.2ZM1194.9,1097.5L1085.9,1064L1103.2,1099.2ZM1085.9,1064L1011.4,1103L1103.2,1099.2Z" fill="#0044ff" stroke="#0044ff" stroke-width="0.8"/>
<path d="M1011.4,1103L1120.4,1132.2" stroke="#000" stroke-width="3.61"/>
<path d="M1120.4,1132.2L1194.9,1097.5" stroke="#000" stroke-width="3.70"/>
<path d="M1194.9,1097.5L1085.9,1064" stroke="#000" stroke-width="3.62"/>
<path d="M1085.9,1064L1011.4,1103" stroke="#000" stroke-width="3.73"/>
<path d="M1120.4,1132.2L1186.1,1123.9L1217.6,1112.9L1212.2,1110.2ZM1268,1099.6L1212.2,1110.2L1217.6,1112.9ZM1287.1,1093.5L1194.9,1097.5L1212.2,1110.2L1268,1099.6ZM1194.9,1097.5L1120.4,1132.2L1212.2,1110.2Z" fill="#0044ff" stroke="#0044ff" stroke-width="0.8"/>
<path d="M1186.1,1123.9L1229.5,1118.5L1217.6,1112.9ZM1229.5,1118.5L1303.9,1092.8L1268,1099.6L1217.6,1112.9ZM1303.9,1092.8L1287.1,1093.5L1268,1099.6Z" fill="#0088ff" stroke="#0088ff" stroke-width="0.8"/>
<path d="M1120.4,1132.2L1229.5,1118.5" stroke="#000" stroke-width="3.56"/>
<path d="M1229.5,1118.5L1303.9,1092.8" stroke="#000" stroke-width="3.64"/>
<path d="M1303.9,1092.8L1194.9,1097.5" stroke="#000" stroke-width="3.55"/>
<path d="M1194.9,1097.5L1120.4,1132.2" stroke="#000" stroke-width="3.70"/>
<path d="M1288.1,1147L1338.5,1171.5L1321.2,1130.3L1308.4,1128.7ZM1338.5,1171.5L1413,1138.6L1321.2,1130.3ZM1413,1138.6L1327.4,1102.7L1315.1,1117.1L1321.2,1130.3ZM1308.4,1128.7L1321.2,1130.3L1315.1,1117.1Z" fill="#0044ff" stroke="#0044ff" stroke-width="0.8"/>
<path d="M1229.5,1118.5L1288.1,1147L1308.4,1128.7ZM1327.4,1102.7L1303.9,1092.8L1315.1,1117.1ZM1303.9,1092.8L1229.5,1118.5L1308.4,1128.7L1315.1,1117.1Z" fill="#0088ff" stroke="#0088ff" stroke-width="0.8"/>
<path d="M1229.5,1118.5L1338.5,1171.5" stroke="#000" stroke-width="3.71"/>
<path d="M1338.5,1171.5L1413,1138.6" stroke="#000" stroke-width="3.69"/>
<path d="M1413,1138.6L1303.9,1092.8" stroke="#000" stroke-width="3.68"/>
<path d="M1303.9,1092.8L1229.5,1118.5" stroke="#000" stroke-width="3.64"/>
<path d="M1435.4,1222.6L1447.5,1229L1443.5,1218.3ZM1447.5,1229L1522,1191.6L1505.5,1190L1443.5,1218.3ZM1522,1191.6L1511.8,1186.6L1505.5,1190Z" fill="#0000ff" stroke="#0000ff" stroke-width="0.8"/>
<path d="M1338.5,1171.5L1435.4,1222.6L1443.5,1218.3L1430.2,1182.7ZM1505.5,1190L1430.2,1182.7L1443.5,1218.3ZM1511.8,1186.6L1413,1138.6L1430.2,1182.7L1505.5,1190ZM1413,1138.6L1338.5,1171.5L1430.2,1182.7Z" fill="#0044ff" stroke="#0044ff" stroke-width="0.8"/>
<path d="M1338.5,1171.5L1447.5,1229" stroke="#000" stroke-width="3.73"/>
<path d="M1447.5,1229L1522,1191.6" stroke="#000" stroke-width="3.72"/>
<path d="M1522,1191.6L1413,1138.6" stroke="#000" stroke-width="3.71"/>
<path d="M1413,1138.6L1338.5,1171.5" stroke="#000" stroke-width="3.69"/>
</g>
<g stroke-linejoin="miter">
<polygon points="466.3,1045.5 575.3,1070.2 575.3,1027.9 466.3,1003.2" fill="#0000ff" stroke="#0000ff" stroke-width="0.8"/>
<polygon points="575.3,1027.9 575.3,985.7 466.3,961 466.3,1003.2" fill="#0044ff" stroke="#0044ff" stroke-width="0.8"/>
<polygon points="575.3,985.7 575.3,943.4 466.3,918.8 466.3,961" fill="#0088ff" stroke="#0088ff" stroke-width="0.8"/>
<polygon points="575.3,943.4 575.3,901.2 466.3,876.5 466.3,918.8" fill="#00ccff" stroke="#00ccff" stroke-width="0.8"/>
<polygon points="575.3,901.2 575.3,888.8 567,857 466.3,834.2 466.3,876.5" fill="#00ffee" stroke="#00ffee" stroke-width="0.8"/>
<polygon points="567,857 555.1,812.1 466.3,792 466.3,834.2" fill="#00ffaa" stroke="#00ffaa" stroke-width="0.8"/>
<polygon points="555.1,812.1 543.3,767.2 466.3,749.8 466.3,792" fill="#00ff66" stroke="#00ff66" stroke-width="0.8"/>
<polygon points="543.3,767.2 531.5,722.3 466.3,707.5 466.3,749.8" fill="#00ff22" stroke="#00ff22" stroke-width="0.8"/>
<polygon points="531.5,722.3 519.7,677.3 466.3,665.2 466.3,707.5" fill="#22ff00" stroke="#22ff00" stroke-width="0.8"/>
<polygon points="519.7,677.3 507.9,632.4 466.3,623 466.3,665.2" fill="#66ff00" stroke="#66ff00" stroke-width="0.8"/>
<polygon points="507.9,632.4 496,587.5 466.3,580.8 466.3,623" fill="#aaff00" stroke="#aaff00" stroke-width="0.8"/>
<polygon points="496,587.5 484.2,542.6 466.3,538.5 466.3,580.8" fill="#eeff00" stroke="#eeff00" stroke-width="0.8"/>
<polygon points="484.2,542.6 472.4,497.6 466.3,496.2 466.3,538.5" fill="#ffcc00" stroke="#ffcc00" stroke-width="0.8"/>
<polygon points="472.4,497.6 466.3,474.5 466.3,496.2" fill="#ff8800" stroke="#ff8800" stroke-width="0.8"/>
<polygon points="575.3,1070.2 684.3,1094.9 684.3,1052.6 575.3,1027.9" fill="#0000ff" stroke="#0000ff" stroke-width="0.8"/>
<polygon points="684.3,1052.6 684.3,1010.4 575.3,985.7 575.3,1027.9" fill="#0044ff" stroke="#0044ff" stroke-width="0.8"/>
<polygon points="684.3,1010.4 684.3,968.1 575.3,943.4 575.3,985.7" fill="#0088ff" stroke="#0088ff" stroke-width="0.8"/>
<polygon points="684.3,968.1 684.3,963.3 602.4,907.3 575.3,901.2 575.3,943.4" fill="#00ccff" stroke="#00ccff" stroke-width="0.8"/>
<polygon points="602.4,907.3 575.3,888.8 575.3,901.2" fill="#00ffee" stroke="#00ffee" stroke-width="0.8"/>
<polygon points="684.3,1094.9 793.4,1119.5 793.4,1077.3 684.3,1052.6" fill="#0000ff" stroke="#0000ff" stroke-width="0.8"/>
<polygon points="793.4,1077.3 793.4,1035 684.3,1010.4 684.3,1052.6" fill="#0044ff" stroke="#0044ff" stroke-width="0.8"/>
<polygon points="793.4,1035 793.4,1014.9 703.8,972.5 684.3,968.1 684.3,1010.4" fill="#0088ff" stroke="#0088ff" stroke-width="0.8"/>
<polygon points="703.8,972.5 684.3,963.3 684.3,968.1" fill="#00ccff" stroke="#00ccff" stroke-width="0.8"/>
<polygon points="793.4,1119.5 902.4,1144.2 902.4,1102 793.4,1077.3" fill="#0000ff" stroke="#0000ff" stroke-width="0.8"/>
<polygon points="902.4,1102 902.4,1059.7 793.4,1035 793.4,1077.3" fill="#0044ff" stroke="#0044ff" stroke-width="0.8"/>
<polygon points="902.4,1059.7 902.4,1057.6 793.4,1014.9 793.4,1035" fill="#0088ff" stroke="#0088ff" stroke-width="0.8"/>
<polygon points="902.4,1144.2 1011.4,1168.9 1011.4,1126.6 902.4,1102" fill="#0000ff" stroke="#0000ff" stroke-width="0.8"/>
<polygon points="1011.4,1126.6 1011.4,1103 913.5,1062.2 902.4,1059.7 902.4,1102" fill="#0044ff" stroke="#0044ff" stroke-width="0.8"/>
<polygon points="913.5,1062.2 902.4,1057.6 902.4,1059.7" fill="#0088ff" stroke="#0088ff" stroke-width="0.8"/>
<polygon points="1011.4,1168.9 1120.4,1193.6 1120.4,1151.3 1011.4,1126.6" fill="#0000ff" stroke="#0000ff" stroke-width="0.8"/>
<polygon points="1120.4,1151.3 1120.4,1132.2 1011.4,1103 1011.4,1126.6" fill="#0044ff" stroke="#0044ff" stroke-width="0.8"/>
<polygon points="1120.4,1193.6 1229.5,1218.2 1229.5,1176 1120.4,1151.3" fill="#0000ff" stroke="#0000ff" stroke-width="0.8"/>
<polygon points="1229.5,1176 1229.5,1133.7 1186.1,1123.9 1120.4,1132.2 1120.4,1151.3" fill="#0044ff" stroke="#0044ff" stroke-width="0.8"/>
<polygon points="1229.5,1133.7 1229.5,1118.5 1186.1,1123.9" fill="#0088ff" stroke="#0088ff" stroke-width="0.8"/>
<polygon points="1229.5,1218.2 1338.5,1242.9 1338.5,1200.7 1229.5,1176" fill="#0000ff" stroke="#0000ff" stroke-width="0.8"/>
<polygon points="1338.5,1200.7 1338.5,1171.5 1288.1,1147 1229.5,1133.7 1229.5,1176" fill="#0044ff" stroke="#0044ff" stroke-width="0.8"/>
<polygon points="1288.1,1147 1229.5,1118.5 1229.5,1133.7" fill="#0088ff" stroke="#0088ff" stroke-width="0.8"/>
<polygon points="1338.5,1242.9 1447.5,1267.6 1447.5,1229 1435.4,1222.6 1338.5,1200.7" fill="#0000ff" stroke="#0000ff" stroke-width="0.8"/>
<polygon points="1435.4,1222.6 1338.5,1171.5 1338.5,1200.7" fill="#0044ff" stroke="#0044ff" stroke-width="0.8"/>
<polygon points="1447.5,1267.6 1522,1231.2 1522,1191.6 1447.5,1229" fill="#0000ff" stroke="#0000ff" stroke-width="0.8"/>
<polygon points="1522,1231.2 1596.4,1194.8 1596.4,1155.1 1522,1191.6" fill="#0000ff" stroke="#0000ff" stroke-width="0.8"/>
<polygon points="1596.4,1194.8 1670.9,1158.4 1670.9,1118.6 1596.4,1155.1" fill="#0000ff" stroke="#0000ff" stroke-width="0.8"/>
<polygon points="1670.9,1158.4 1745.4,1122 1745.4,1081.6 1670.9,1118.6" fill="#0000ff" stroke="#0000ff" stroke-width="0.8"/>
<polygon points="1745.4,1122 1819.9,1085.6 1819.9,1045.1 1745.4,1081.6" fill="#0000ff" stroke="#0000ff" stroke-width="0.8"/>
<polygon points="1819.9,1085.6 1894.3,1049.2 1894.3,1007.4 1819.9,1045.1" fill="#0000ff" stroke="#0000ff" stroke-width="0.8"/>
<polygon points="1894.3,1049.2 1968.8,1012.8 1968.8,970.9 1894.3,1007.4" fill="#0000ff" stroke="#0000ff" stroke-width="0.8"/>
<polygon points="1968.8,1012.8 2043.3,976.4 2043.3,934.1 1981.8,964.2 1968.8,970.9" fill="#0000ff" stroke="#0000ff" stroke-width="0.8"/>
<polygon points="2043.3,934.1 2043.3,932.5 1981.8,964.2" fill="#0044ff" stroke="#0044ff" stroke-width="0.8"/>
<polygon points="2043.3,976.4 2117.8,940 2117.8,897.8 2043.3,934.1" fill="#0000ff" stroke="#0000ff" stroke-width="0.8"/>
<polygon points="2117.8,897.8 2117.8,896.8 2043.3,932.5 2043.3,934.1" fill="#0044ff" stroke="#0044ff" stroke-width="0.8"/>
</g>
<g fill="none" stroke="#000" stroke-linejoin="round" stroke-linecap="round">
<path d="M466.3,474.5L575.3,888.8" stroke="#000" stroke-width="4.34"/>
<path d="M575.3,888.8L684.3,963.3" stroke="#000" stroke-width="3.82"/>
<path d="M684.3,963.3L793.4,1014.9" stroke="#000" stroke-width="3.71"/>
<path d="M793.4,1014.9L902.4,1057.6" stroke="#000" stroke-width="3.66"/>
<path d="M902.4,1057.6L1011.4,1103" stroke="#000" stroke-width="3.68"/>
<path d="M1011.4,1103L1120.4,1132.2" stroke="#000" stroke-width="3.61"/>
<path d="M1120.4,1132.2L1229.5,1118.5" stroke="#000" stroke-width="3.56"/>
<path d="M1229.5,1118.5L1338.5,1171.5" stroke="#000" stroke-width="3.71"/>
<path d="M1338.5,1171.5L1447.5,1229" stroke="#000" stroke-width="3.73"/>
<path d="M1447.5,1229L1522,1191.6" stroke="#000" stroke-width="3.72"/>
<path d="M1522,1191.6L1596.4,1155.1" stroke="#000" stroke-width="3.71"/>
<path d="M1596.4,1155.1L1670.9,1118.6" stroke="#000" stroke-width="3.71"/>
<path d="M1670.9,1118.6L1745.4,1081.6" stroke="#000" stroke-width="3.72"/>
<path d="M1745.4,1081.6L1819.9,1045.1" stroke="#000" stroke-width="3.71"/>
<path d="M1819.9,1045.1L1894.3,1007.4" stroke="#000" stroke-width="3.72"/>
<path d="M1894.3,1007.4L1968.8,970.9" stroke="#000" stroke-width="3.71"/>
<path d="M1968.8,970.9L2043.3,932.5" stroke="#000" stroke-width="3.73"/>
<path d="M2043.3,932.5L2117.8,896.8" stroke="#000" stroke-width="3.71"/>
<polyline points="466.3,474.5 466.3,1045.5 1447.5,1267.6 2117.8,940 2117.8,896.8" stroke-width="3.8"/>
<line x1="1447.5" y1="1267.6" x2="1447.5" y2="1229" stroke-width="4.5"/>
</g>
<g font-family="Liberation Sans, Arial, sans-serif" font-weight="bold" fill="#000">
<text x="296.5" y="1077.1" font-size="62.5" text-anchor="end">0</text>
<text x="296.5" y="964.4" font-size="62.5" text-anchor="end">500</text>
<text x="296.5" y="851.8" font-size="62.5" text-anchor="end">1000</text>
<text x="296.5" y="739.1" font-size="62.5" text-anchor="end">1500</text>
<text x="296.5" y="626.4" font-size="62.5" text-anchor="end">2000</text>
<text x="296.5" y="513.8" font-size="62.5" text-anchor="end">2500</text>
<text x="296.5" y="401.1" font-size="62.5" text-anchor="end">3000</text>
<text transform="translate(81.8,539.6) rotate(-90) scale(0.9745,1)" font-size="66" text-anchor="middle" xml:space="preserve">Damping coefficient   <tspan dx="-5">C</tspan> <tspan dx="5">(Ns/m)</tspan></text>
<text x="326.8" y="1114.1" font-size="62.5" text-anchor="end">0</text>
<text x="507.1" y="1155" font-size="62.5" text-anchor="end">2.5</text>
<text x="685" y="1195.9" font-size="62.5" text-anchor="end">5</text>
<text x="862.8" y="1236.8" font-size="62.5" text-anchor="end">7.5</text>
<text x="1040.6" y="1277.6" font-size="62.5" text-anchor="end">10</text>
<text x="1218.5" y="1318.5" font-size="62.5" text-anchor="end">12.5</text>
<text x="1396.3" y="1359.4" font-size="62.5" text-anchor="end">15</text>
<text x="1400.3" y="1376.4" font-size="62.5" text-anchor="start">20</text>
<text x="1522" y="1316.7" font-size="62.5" text-anchor="start">30</text>
<text x="1643.6" y="1257.1" font-size="62.5" text-anchor="start">40</text>
<text x="1765.3" y="1197.4" font-size="62.5" text-anchor="start">50</text>
<text x="1887" y="1137.7" font-size="62.5" text-anchor="start">60</text>
<text x="2008.6" y="1078.1" font-size="62.5" text-anchor="start">70</text>
<text x="2130.3" y="1018.4" font-size="62.5" text-anchor="start">80</text>
<text transform="translate(842,1341) rotate(13)" font-size="64" text-anchor="middle" textLength="504" lengthAdjust="spacingAndGlyphs">Frequency f (Hz)</text>
<text transform="translate(1843,1311) rotate(-26.5)" font-size="64" text-anchor="middle" textLength="578" lengthAdjust="spacingAndGlyphs">Temperature T (°C)</text>
</g>
</svg>
</body>
</html>
